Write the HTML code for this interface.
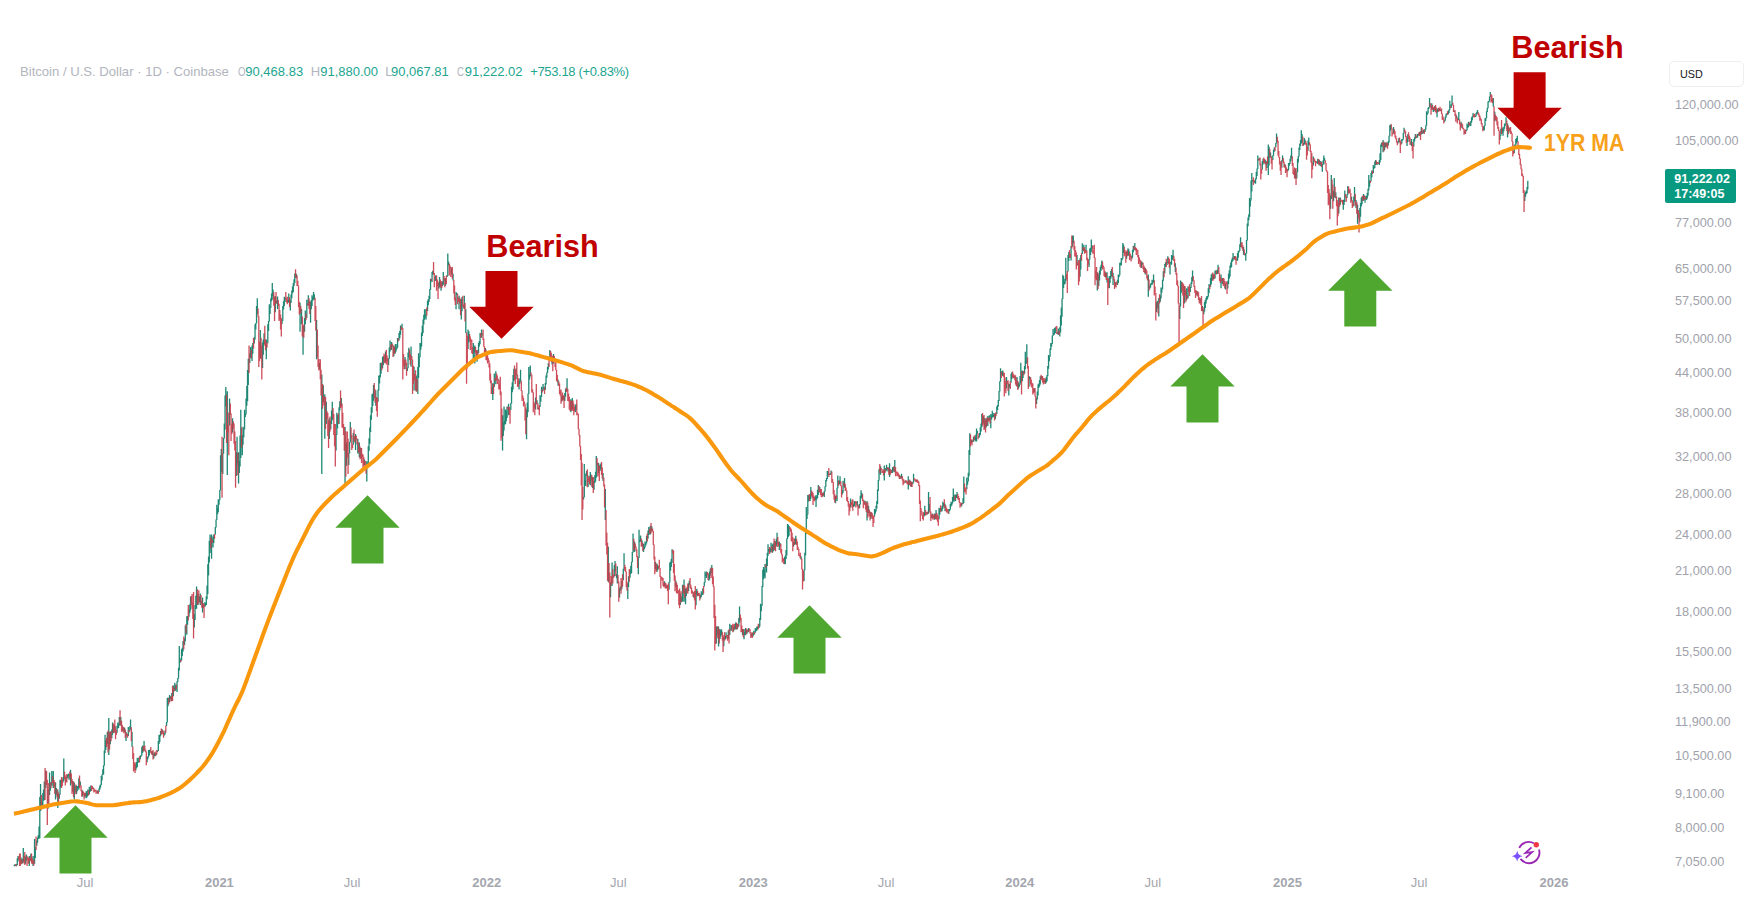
<!DOCTYPE html>
<html><head><meta charset="utf-8"><style>
*{margin:0;padding:0;box-sizing:border-box}
html,body{width:1753px;height:916px;background:#fff;overflow:hidden}
body{position:relative;font-family:"Liberation Sans",sans-serif}
.lg{position:absolute;top:64px;font-size:13px;line-height:15px;white-space:nowrap;color:#b2b5be}
.lg.v{color:#22a58f}
.lg.sq{transform:scaleX(.74);transform-origin:0 0}
.pl{position:absolute;left:1675px;font-size:12.7px;line-height:12.7px;color:#9fa2ab;white-space:nowrap}
.tl{position:absolute;top:874.6px;width:80px;text-align:center;font-size:13px;line-height:15px;color:#a3a6ae}
.tl.yr{font-weight:bold}
.bear{position:absolute;font-weight:bold;font-size:30.65px;line-height:30px;color:#c00000;white-space:nowrap}
.ma{position:absolute;left:1543.6px;top:130.9px;font-weight:bold;font-size:24px;transform:scaleX(.885);transform-origin:0 0;line-height:24px;color:#f7a11a;white-space:nowrap}
.usd{position:absolute;left:1668.5px;top:60.5px;width:75px;height:26.5px;border:1px solid #eceef2;border-radius:5px;font-size:10.8px;line-height:24.5px;padding-left:10.5px;color:#131722}
.cur{position:absolute;left:1665.3px;top:169px;width:71.2px;height:34.4px;background:#089981;border-radius:2px;color:#fff;font-weight:bold;font-size:12.5px;line-height:14.5px;padding:3px 0 0 9px}
</style></head><body>
<svg width="1753" height="916" viewBox="0 0 1753 916" style="position:absolute;left:0;top:0">
<path d="M14.30 864.8V866.2M15.05 864.3V865.8M16.55 864.2V866.3M17.30 858.2V864.9M18.05 856.1V861.3M21.05 857.6V864.2M22.55 858.8V863.2M23.30 848.0V862.0M25.55 856.4V863.7M26.30 854.4V860.8M29.30 856.0V866.0M30.80 853.7V860.8M33.05 856.0V866.0M34.55 839.0V863.8M35.30 847.0V857.9M36.80 840.5V845.8M37.55 837.5V842.8M38.30 835.0V839.0M39.05 826.5V838.8M39.80 797.0V838.3M40.55 784.0V811.0M42.05 801.2V808.3M42.80 793.1V807.0M43.55 789.4V801.0M44.30 781.5V799.9M45.80 770.6V787.9M48.05 789.6V808.8M49.55 772.6V795.1M50.30 782.3V790.8M51.80 771.0V785.7M53.30 771.0V788.0M55.55 782.6V799.6M56.30 788.1V794.7M57.80 789.7V808.0M59.30 794.3V798.7M60.05 779.7V794.8M60.80 779.7V787.4M63.05 777.2V782.5M63.80 758.5V780.7M66.05 777.6V782.1M67.55 774.8V778.3M68.30 773.7V776.2M69.05 773.4V779.7M70.55 769.8V785.4M72.80 781.1V791.8M74.30 782.6V799.6M75.05 786.6V792.1M76.55 785.4V794.0M77.30 785.9V791.2M78.05 785.9V787.4M78.80 778.2V789.8M80.30 781.4V785.8M82.55 790.6V796.5M84.80 793.3V797.4M86.30 791.0V798.2M87.05 792.9V797.2M87.80 789.5V795.9M89.30 786.8V794.4M90.05 789.0V792.1M90.80 785.6V791.1M93.05 787.6V789.1M97.55 790.4V793.5M99.05 788.3V792.1M99.80 785.4V789.7M100.55 784.5V787.7M101.30 776.0V785.0M102.05 774.5V780.6M102.80 769.2V775.0M103.55 765.3V774.5M104.30 750.5V765.8M105.05 734.8V753.1M105.80 740.3V750.0M107.30 731.9V744.1M108.80 718.0V754.9M110.30 731.7V744.3M111.80 729.4V738.3M112.55 722.5V734.8M114.05 724.7V732.9M117.05 725.8V732.9M117.80 722.5V728.6M118.55 723.6V727.9M119.30 717.0V725.5M120.80 717.0V725.5M123.05 726.7V730.8M124.55 727.8V731.9M126.05 731.7V740.9M128.30 727.0V735.9M129.80 726.3V731.2M130.55 719.5V729.2M132.05 731.7V747.0M135.80 764.3V770.4M136.55 761.9V768.2M137.30 757.7V766.9M138.05 760.7V762.8M138.80 757.7V762.6M140.30 755.6V759.3M141.05 755.0V756.7M141.80 747.0V755.5M142.55 745.4V753.0M144.05 740.9V751.3M147.05 756.5V762.2M147.80 756.7V759.3M148.55 750.0V757.2M149.30 750.2V755.4M150.05 749.5V751.8M152.30 751.3V755.1M153.80 753.5V758.6M154.55 752.4V756.0M156.05 753.0V755.6M157.55 750.6V752.1M158.30 740.9V751.1M159.05 734.8V744.0M159.80 734.9V741.9M160.55 730.9V736.2M162.05 729.1V733.4M164.30 733.2V735.4M165.05 730.5V734.4M166.55 722.0V726.1M167.30 698.0V722.5M168.05 697.4V706.3M169.55 695.0V702.3M170.30 696.3V699.4M171.80 692.9V701.1M173.30 685.6V696.3M174.80 682.8V690.9M175.55 684.8V690.5M177.05 681.3V692.0M177.80 678.0V682.1M178.55 667.8V678.5M179.30 646.1V670.6M180.05 658.3V662.7M181.55 649.2V660.4M182.30 647.7V656.0M183.05 641.0V651.4M184.55 638.2V645.1M185.30 625.6V641.3M186.80 616.2V634.8M187.55 616.0V624.8M189.05 609.5V616.8M189.80 604.3V613.0M190.55 596.6V610.6M194.30 614.0V627.6M195.05 605.1V619.9M195.80 595.8V609.0M196.55 586.5V608.8M198.05 593.7V604.9M199.55 596.3V601.9M200.30 593.4V605.1M202.55 597.6V612.5M204.80 602.3V607.1M205.55 602.9V605.7M206.30 596.3V605.1M207.05 585.6V599.2M207.80 564.2V593.9M208.55 556.5V575.5M209.30 540.8V562.5M210.05 534.5V553.1M211.55 534.5V558.7M213.05 536.4V547.5M213.80 534.4V542.9M215.30 526.9V534.4M216.05 519.5V527.4M216.80 504.8V520.0M217.55 508.1V514.2M218.30 499.3V512.3M219.05 499.8V504.7M219.80 490.0V500.3M220.55 455.2V490.5M221.30 449.1V472.3M222.80 453.3V473.9M223.55 438.1V453.8M224.30 423.5V438.6M225.05 395.5V429.6M225.80 387.0V406.4M227.30 391.3V475.0M229.55 398.4V425.6M232.55 418.3V432.4M236.30 452.2V476.0M237.05 436.7V464.7M238.55 452.3V483.5M239.30 460.8V472.9M240.05 435.4V466.5M240.80 409.7V458.0M242.30 435.3V455.2M243.05 426.8V444.8M243.80 428.4V437.2M244.55 409.7V429.6M245.30 413.7V417.0M246.05 398.4V414.4M246.80 385.9V405.8M247.55 370.0V401.2M248.30 358.8V385.1M249.80 353.3V362.9M250.55 347.1V357.8M252.05 345.6V360.9M252.80 342.9V353.7M254.30 337.2V343.4M255.05 324.2V339.5M255.80 323.1V329.4M256.55 305.9V323.6M257.30 298.2V313.9M260.30 330.0V358.1M262.55 342.4V368.1M263.30 339.5V354.8M264.05 333.2V344.0M266.30 339.5V359.3M267.80 324.2V343.2M268.55 321.1V331.1M269.30 304.3V321.6M270.05 307.6V313.9M270.80 298.2V308.1M271.55 293.6V301.3M272.30 282.9V295.9M273.05 289.4V299.7M275.30 295.9V312.3M276.80 300.6V303.6M277.55 296.6V308.9M282.05 320.5V323.9M282.80 305.9V321.0M283.55 301.3V309.5M284.30 296.7V305.9M285.05 297.4V301.9M288.05 299.7V302.7M288.80 293.6V302.8M290.30 299.7V310.4M291.05 294.4V302.7M291.80 290.6V298.2M292.55 286.6V293.5M293.30 282.9V292.1M294.05 279.2V286.1M294.80 273.6V282.9M296.30 273.7V278.3M300.05 302.8V331.8M301.55 308.9V324.2M303.05 325.7V354.8M304.55 318.0V331.7M305.30 310.4V324.2M306.80 299.7V318.1M308.30 295.2V305.7M310.55 302.0V322.7M311.30 300.0V309.3M312.05 295.2V305.9M312.80 296.7V300.7M313.55 292.1V299.8M314.30 294.2V299.7M316.55 320.0V359.3M319.55 363.1V369.2M321.80 374.6V474.0M323.30 385.3V402.0M324.80 394.2V438.8M326.30 401.7V423.9M329.30 418.3V439.1M330.80 420.6V429.2M331.55 410.4V424.1M332.30 401.7V420.2M336.05 434.5V450.6M336.80 412.8V435.0M337.55 414.8V428.5M339.05 407.2V423.9M339.80 401.3V410.6M341.30 398.1V406.7M345.05 426.9V485.2M346.55 442.5V465.7M348.80 452.9V465.0M349.55 441.9V453.4M350.30 422.1V442.4M353.30 433.1V444.7M355.55 434.1V449.9M357.80 438.8V453.6M359.30 442.5V457.3M360.80 448.0V458.6M364.55 459.4V464.9M366.80 461.2V481.5M367.55 462.6V467.5M368.30 446.2V463.1M369.05 438.3V451.1M369.80 427.6V443.8M370.55 415.2V432.1M371.30 407.3V419.7M372.05 394.2V412.8M372.80 393.4V406.0M373.55 385.0V400.7M375.80 390.5V405.7M378.05 389.6V401.8M378.80 375.7V390.5M379.55 375.0V383.4M380.30 362.7V377.6M381.05 363.0V373.7M382.55 357.1V368.3M383.30 356.0V365.3M385.55 351.4V362.3M388.55 358.3V364.9M389.30 347.4V358.8M390.05 340.4V351.6M391.55 341.9V350.1M393.80 346.2V356.3M395.30 344.1V353.5M396.05 348.0V351.5M396.80 344.2V349.3M397.55 338.0V347.8M399.05 333.0V340.6M399.80 330.7V338.3M400.55 325.6V334.8M402.05 323.7V328.6M405.05 357.1V369.2M407.30 367.7V371.1M408.05 352.6V368.2M408.80 347.8V357.5M411.05 346.5V366.8M414.05 366.8V390.5M416.30 375.4V391.6M417.80 366.8V393.9M418.55 353.3V378.1M419.30 356.8V367.3M420.05 343.1V357.3M420.80 342.9V349.8M421.55 332.4V346.5M422.30 325.5V335.9M423.05 319.5V333.0M423.80 314.7V324.6M424.55 309.3V319.8M425.30 314.8V317.1M426.05 309.0V319.5M427.55 300.8V311.1M428.30 298.9V305.3M429.05 295.7V302.1M429.80 289.0V299.1M430.55 278.8V289.8M432.05 272.1V282.0M432.80 270.8V274.8M435.05 277.3V281.1M435.80 275.2V280.7M438.80 282.7V288.8M439.55 277.1V287.3M441.05 282.2V290.7M442.55 281.6V286.0M443.30 272.1V284.8M445.55 278.3V285.8M447.05 275.5V277.1M447.80 253.5V276.0M448.55 261.4V265.5M451.55 268.5V274.3M453.05 273.8V280.5M456.05 292.1V309.3M456.80 292.9V295.1M459.05 295.8V309.3M461.30 299.1V319.5M462.05 297.0V311.2M464.30 295.8V309.3M465.80 309.3V333.0M468.05 329.6V349.1M468.80 331.2V342.5M473.30 343.1V360.1M474.05 346.6V352.4M474.80 345.6V363.4M477.05 349.9V361.8M478.55 343.1V353.3M479.30 341.0V346.6M480.05 333.0V344.3M481.55 329.6V337.7M482.30 333.4V335.3M485.30 348.0V353.2M492.05 387.2V394.1M492.80 383.2V400.0M494.30 373.6V386.9M495.80 371.2V384.2M498.05 378.8V380.3M502.55 415.2V450.6M503.30 422.4V436.0M504.05 406.6V430.4M504.80 420.7V424.4M505.55 409.5V424.2M506.30 410.7V421.3M507.05 406.4V418.0M508.55 403.7V415.2M510.80 402.9V410.0M511.55 386.8V403.4M512.30 382.2V392.2M513.05 375.0V389.6M513.80 368.8V381.3M516.05 368.6V379.2M519.05 381.0V389.6M519.80 378.5V383.9M520.55 369.7V381.7M526.55 409.5V439.3M527.30 402.4V417.2M528.05 393.5V412.3M528.80 366.9V394.0M529.55 374.4V379.6M530.30 365.5V376.5M535.55 397.6V409.4M537.05 400.3V403.5M538.55 407.5V409.6M540.05 395.3V407.0M540.80 396.5V401.7M541.55 386.8V397.1M543.05 383.9V390.9M543.80 387.2V388.9M545.30 383.1V389.9M546.05 375.4V384.6M546.80 372.5V377.7M547.55 366.9V373.0M548.30 363.2V369.6M549.80 349.9V359.6M552.05 357.6V364.5M553.55 354.1V363.6M558.05 379.5V385.4M561.80 395.7V401.6M563.30 395.7V399.8M564.80 393.0V401.1M565.55 388.7V396.7M567.05 378.3V391.3M570.80 399.3V412.3M572.30 398.1V409.5M575.30 405.2V412.3M576.05 404.1V410.1M583.55 496.7V499.4M584.30 464.0V497.2M585.05 479.9V485.6M585.80 473.5V486.1M586.55 471.1V475.9M588.05 475.4V486.9M590.30 472.0V485.3M591.05 474.4V480.7M592.55 477.3V487.9M594.05 481.3V489.8M594.80 475.2V483.1M595.55 471.8V481.8M596.30 456.0V477.8M598.55 463.1V473.3M600.05 464.7V471.1M600.80 463.6V468.9M603.05 473.0V481.0M605.30 489.0V520.0M608.30 546.7V582.0M610.55 582.2V597.3M612.05 562.4V586.0M614.30 565.3V576.6M615.05 561.0V571.6M616.55 574.0V578.2M617.30 566.3V583.4M619.55 588.3V597.5M620.30 586.5V590.8M621.80 581.0V589.3M623.30 568.7V580.2M624.05 553.2V569.2M627.80 583.6V599.1M628.55 576.3V587.0M630.05 569.9V577.8M630.80 565.8V573.9M631.55 561.7V572.9M632.30 551.9V562.2M633.05 533.6V552.4M634.55 541.4V551.9M638.30 557.6V574.2M639.05 529.7V558.1M639.80 540.0V542.0M640.55 535.6V541.6M642.05 540.6V546.2M643.55 544.1V551.9M644.30 546.7V549.3M645.05 541.4V547.4M645.80 542.9V545.4M646.55 535.8V543.4M648.05 530.6V538.7M648.80 527.0V534.9M650.30 525.8V534.4M651.80 526.3V531.2M655.55 561.9V569.2M657.05 563.7V571.8M657.80 565.6V570.3M664.55 581.2V586.3M666.80 585.5V588.1M669.05 581.9V589.7M669.80 562.4V582.4M670.55 561.7V570.8M671.30 558.8V566.9M672.05 549.3V563.0M675.80 580.4V586.9M680.30 593.8V605.1M681.80 596.6V602.0M682.55 584.8V601.4M684.05 579.4V601.7M685.55 588.6V604.3M686.30 588.3V596.1M688.55 583.2V591.0M689.30 580.8V584.9M693.80 592.5V597.8M696.05 591.1V605.2M696.80 588.8V595.0M698.30 592.9V595.5M700.55 594.9V598.5M701.30 591.2V596.9M702.05 593.4V594.9M702.80 588.4V594.9M704.30 581.9V586.5M705.05 571.6V582.4M705.80 573.4V576.0M706.55 571.6V578.1M708.80 574.2V580.8M709.55 571.6V579.8M710.30 568.6V575.8M711.80 565.0V572.9M716.30 626.5V643.5M717.05 626.2V634.9M718.55 626.5V646.4M720.05 629.3V639.1M720.80 630.2V636.5M721.55 629.3V635.0M723.80 636.9V646.3M725.30 635.7V639.4M726.05 632.2V638.5M728.30 630.6V638.7M729.80 623.7V634.9M731.30 625.1V630.8M733.55 626.4V631.4M735.05 624.1V629.6M735.80 622.2V629.3M737.30 623.7V629.3M738.80 618.0V626.5M739.55 606.6V622.4M742.55 629.3V635.0M744.05 629.3V639.3M744.80 632.2V634.9M745.55 627.9V635.2M747.05 629.3V633.8M748.55 627.9V632.2M751.55 633.8V636.6M753.05 632.9V636.6M753.80 630.8V635.0M755.30 627.9V632.8M756.05 629.0V631.3M756.80 626.5V630.8M757.55 626.6V629.4M759.05 624.3V627.9M759.80 618.0V626.5M760.55 603.8V620.1M761.30 605.5V611.2M762.05 585.9V606.0M762.80 569.7V587.1M763.55 566.9V579.3M764.30 569.5V576.3M765.05 564.0V578.3M766.55 558.4V572.6M767.30 552.7V566.1M768.05 544.2V555.8M768.80 549.1V551.7M770.30 548.2V552.4M771.05 542.8V551.3M772.55 544.2V552.7M773.30 543.2V551.2M774.80 541.1V550.2M776.30 538.7V546.4M777.05 532.8V544.2M779.30 541.4V549.9M780.05 543.1V546.6M784.55 557.0V564.3M785.30 555.5V564.0M786.05 550.1V559.1M786.80 538.5V555.5M787.55 524.0V539.0M788.30 524.8V537.1M789.05 526.0V535.7M793.55 541.9V546.4M795.05 538.5V544.5M795.80 535.7V544.2M801.05 556.3V559.6M804.05 569.7V581.1M804.80 552.7V570.2M805.55 530.0V555.4M806.30 507.0V534.0M807.05 513.9V519.1M807.80 495.0V514.4M808.55 495.3V501.6M810.05 494.2V501.1M810.80 487.0V499.0M815.30 496.3V500.1M816.05 495.0V507.0M816.80 496.6V499.5M817.55 489.7V498.0M818.30 485.0V495.0M819.80 487.1V492.5M822.80 492.6V496.3M824.30 491.0V497.0M825.05 486.2V491.5M825.80 480.0V486.7M826.55 478.1V481.3M827.30 471.0V479.0M828.05 471.4V474.9M830.30 473.4V475.0M831.05 470.6V474.4M835.55 496.0V503.3M837.05 487.8V500.9M837.80 475.5V488.3M839.30 480.4V484.6M840.05 476.3V483.7M842.30 490.3V494.6M843.05 480.8V492.7M844.55 477.9V487.8M850.55 498.4V507.6M853.55 503.7V506.9M854.30 500.9V506.2M855.05 501.8V503.4M857.30 500.9V506.6M859.55 504.1V508.2M860.30 495.7V504.6M861.05 490.2V498.2M861.80 492.7V498.4M864.80 500.6V504.4M867.05 500.9V520.5M868.55 505.8V512.9M870.80 512.0V519.0M874.55 509.0V516.4M875.30 509.7V513.7M876.05 505.8V511.5M876.80 500.9V508.4M877.55 489.4V504.0M878.30 480.1V491.0M879.05 469.1V480.6M880.55 466.3V474.7M884.30 465.6V480.4M885.80 468.1V471.4M886.55 464.8V470.5M888.05 467.3V471.4M889.55 463.2V477.1M891.80 469.7V473.0M892.55 467.3V473.0M893.30 467.0V471.4M894.80 459.9V472.3M900.05 475.5V479.1M901.55 473.8V478.3M905.30 480.4V482.8M908.30 476.3V489.4M909.80 479.8V485.3M911.30 481.7V487.0M912.80 481.9V484.2M913.55 473.8V482.4M916.55 479.8V481.3M924.05 512.3V516.5M924.80 505.8V515.6M927.05 512.1V514.7M928.55 492.1V513.7M929.30 503.9V511.5M932.30 513.5V518.5M934.55 513.6V519.7M936.05 510.1V519.0M939.05 507.7V519.2M939.80 508.4V514.8M941.30 507.9V511.6M942.05 506.0V511.3M942.80 501.7V508.9M943.55 503.0V506.4M945.05 503.7V511.3M948.80 508.9V513.7M949.55 509.2V511.2M950.30 504.1V509.7M951.05 501.7V506.6M951.80 502.5V505.6M952.55 496.9V503.4M953.30 488.5V501.3M954.05 494.5V501.7M955.55 494.5V500.9M956.30 495.1V497.8M957.05 492.1V498.1M961.55 502.7V506.5M963.05 498.0V504.1M963.80 476.4V502.9M966.80 477.6V489.3M967.55 481.0V484.8M968.30 472.8V481.5M969.05 450.0V476.3M969.80 433.2V454.9M971.30 439.9V443.1M972.80 440.6V442.1M973.55 436.8V441.7M975.05 436.8V439.9M975.80 434.4V441.6M976.55 428.4V441.6M977.30 431.1V433.7M978.80 436.3V438.1M979.55 433.1V436.8M980.30 427.2V434.9M981.05 423.6V431.4M981.80 414.0V427.2M983.30 416.3V423.4M984.80 418.1V428.8M986.30 418.4V427.2M987.80 416.0V426.0M989.30 415.2V420.2M990.80 414.1V428.3M991.55 415.2V419.5M992.30 410.8V417.4M993.05 414.9V416.4M993.80 413.0V417.3M995.30 413.3V418.9M996.80 406.4V413.9M997.55 404.9V410.0M998.30 399.9V406.4M999.05 391.1V401.1M999.80 381.3V391.6M1000.55 368.2V381.8M1002.05 371.0V375.3M1002.80 370.4V375.9M1006.55 376.9V388.6M1008.80 383.5V395.5M1009.55 384.0V387.4M1011.05 373.7V382.7M1011.80 372.3V379.2M1014.05 375.9V378.3M1017.05 376.9V386.8M1018.55 382.4V388.7M1019.30 384.2V386.7M1020.05 375.9V384.7M1020.80 362.8V382.9M1022.30 370.4V381.3M1023.05 371.1V378.0M1024.55 366.1V373.7M1025.30 351.8V369.2M1026.05 360.8V364.0M1026.80 344.2V362.8M1029.05 376.1V386.8M1029.80 377.1V379.4M1034.30 388.7V392.1M1036.55 397.7V404.0M1037.30 391.4V399.4M1038.05 384.6V395.5M1038.80 383.5V387.9M1039.55 380.0V386.6M1040.30 376.2V384.6M1041.80 376.3V379.2M1044.05 380.2V382.3M1045.55 379.1V383.8M1046.30 377.1V382.4M1047.05 375.0V381.3M1047.80 366.0V376.2M1048.55 355.1V368.8M1049.30 356.2V361.3M1050.05 348.5V356.7M1050.80 343.1V349.9M1051.55 343.6V346.7M1052.30 335.5V344.1M1053.05 329.0V336.0M1053.80 332.9V334.7M1054.55 328.0V334.6M1055.30 327.3V332.9M1057.55 331.9V333.9M1058.30 328.5V335.0M1059.80 327.3V336.4M1060.55 315.4V332.4M1061.30 307.5V325.6M1062.05 298.4V316.7M1062.80 274.8V298.9M1063.55 276.1V288.1M1064.30 281.3V284.6M1065.05 278.7V284.0M1065.80 257.8V281.2M1068.05 255.1V271.4M1068.80 252.0V261.1M1071.05 246.0V260.4M1072.55 235.8V246.7M1073.30 235.5V243.3M1077.05 255.1V265.6M1080.05 258.3V276.7M1080.80 255.1V269.5M1082.30 243.3V254.1M1083.80 244.7V251.2M1086.05 244.7V252.5M1089.05 259.1V266.9M1089.80 248.6V259.6M1090.55 247.8V254.9M1091.30 239.4V251.9M1092.05 245.4V248.4M1097.30 272.2V290.5M1098.80 274.8V286.0M1099.55 270.6V280.4M1100.30 266.9V274.8M1101.05 264.7V270.8M1101.80 260.4V268.2M1105.55 272.2V277.4M1107.05 272.2V282.6M1109.30 276.1V288.3M1110.05 276.1V283.0M1110.80 270.9V278.7M1111.55 268.9V276.5M1113.05 272.7V285.0M1115.30 282.2V286.6M1117.55 279.8V285.0M1118.30 274.5V283.1M1119.05 274.7V277.2M1119.80 262.8V275.2M1120.55 262.5V265.3M1121.30 258.1V265.4M1122.05 257.9V260.3M1122.80 243.1V258.5M1123.55 244.6V252.9M1126.55 251.6V258.8M1128.05 248.3V255.5M1128.80 249.6V255.7M1131.80 255.6V259.3M1132.55 249.7V257.5M1133.30 245.7V252.3M1134.80 243.1V250.2M1141.55 261.4V268.0M1142.30 262.3V264.8M1145.30 268.0V274.5M1148.30 274.5V296.8M1149.80 286.1V288.8M1150.55 283.7V287.6M1151.30 283.1V284.8M1152.05 279.8V285.0M1152.80 280.2V283.6M1153.55 274.5V282.4M1156.55 302.3V312.0M1157.30 300.7V308.6M1158.80 297.9V316.5M1160.30 295.2V301.7M1161.05 287.6V298.6M1161.80 288.8V292.7M1162.55 279.8V289.3M1163.30 271.3V280.7M1164.80 264.1V273.3M1165.55 262.3V266.8M1167.05 261.7V265.1M1167.80 256.2V262.8M1170.05 261.7V274.5M1170.80 261.8V263.3M1171.55 254.9V264.7M1172.30 255.7V260.0M1173.05 249.7V258.5M1175.30 263.3V271.9M1179.80 306.0V319.1M1180.55 280.4V306.5M1181.30 281.7V292.8M1184.30 286.0V303.5M1186.55 288.3V300.2M1188.05 286.5V298.2M1190.30 287.0V292.0M1191.05 282.4V288.0M1191.80 277.0V283.9M1192.55 270.6V281.6M1197.05 291.0V295.8M1200.05 297.7V302.9M1202.30 306.0V311.2M1203.80 309.4V314.3M1204.55 301.9V311.6M1205.30 300.0V308.0M1206.05 297.8V303.4M1206.80 295.9V300.3M1207.55 296.3V298.9M1208.30 288.3V296.8M1209.05 284.1V292.9M1210.55 278.1V286.8M1211.30 274.5V284.3M1212.05 273.6V280.1M1213.55 274.7V279.5M1215.05 270.6V278.4M1215.80 270.5V273.8M1217.30 269.8V273.9M1218.05 264.7V272.8M1221.05 274.5V288.3M1222.55 277.9V284.0M1225.55 283.6V289.4M1227.80 280.8V288.5M1228.55 273.7V284.1M1229.30 270.3V278.8M1230.05 265.4V276.5M1230.80 262.4V268.1M1231.55 259.8V267.1M1232.30 257.8V261.7M1233.05 252.9V260.7M1234.55 256.1V259.6M1236.80 258.8V260.7M1237.55 252.9V260.7M1238.30 250.7V257.8M1239.05 250.6V252.6M1239.80 244.2V251.1M1240.55 237.2V247.0M1243.55 247.0V254.8M1245.05 253.9V255.4M1245.80 252.9V260.7M1246.55 240.0V253.4M1247.30 223.4V240.5M1248.05 217.5V226.2M1248.80 214.3V220.3M1249.55 198.0V216.9M1250.30 200.0V206.6M1251.05 180.5V200.5M1251.80 172.9V191.4M1252.55 180.0V181.5M1254.80 180.8V183.3M1255.55 178.3V183.8M1256.30 171.9V179.3M1257.05 168.5V176.1M1257.80 155.4V169.0M1259.30 158.3V160.3M1262.30 160.9V169.4M1263.05 158.7V164.6M1265.30 159.8V164.4M1266.80 161.0V168.1M1268.30 144.5V175.0M1269.05 146.8V165.6M1270.55 152.4V157.7M1272.80 155.2V160.1M1273.55 149.7V155.7M1274.30 147.6V151.7M1275.80 143.0V147.2M1276.55 133.6V143.5M1281.80 160.2V167.8M1282.55 155.4V161.6M1284.80 164.1V167.6M1287.80 169.1V171.6M1288.55 163.0V170.1M1289.30 163.0V165.7M1290.05 158.7V163.9M1290.80 155.4V161.3M1291.55 147.8V158.7M1295.30 168.9V178.6M1296.80 171.8V178.6M1297.55 158.7V172.3M1298.30 155.9V162.5M1299.05 147.4V156.4M1299.80 143.4V149.9M1300.55 140.0V145.9M1301.30 130.3V143.4M1302.05 133.9V142.5M1303.55 142.9V145.4M1304.30 137.9V144.6M1305.05 139.8V143.7M1308.05 140.6V150.7M1308.80 137.6V145.6M1313.30 156.5V165.6M1317.05 161.1V162.8M1317.80 158.7V164.1M1319.30 159.8V165.6M1320.80 160.9V166.3M1322.30 164.1V171.8M1323.05 160.5V164.8M1323.80 155.4V164.4M1324.55 158.0V160.8M1330.55 195.4V208.7M1331.30 175.0V199.1M1333.55 190.7V201.3M1334.30 178.0V197.5M1335.80 192.2V198.3M1338.80 197.5V213.5M1340.30 197.5V204.7M1343.30 200.0V209.7M1344.05 199.6V205.0M1344.80 190.5V201.9M1347.05 194.3V198.0M1347.80 186.1V194.8M1349.30 190.2V192.8M1351.55 196.8V200.8M1353.80 196.6V206.2M1354.55 187.0V201.8M1356.05 200.0V208.0M1357.55 204.5V223.7M1359.80 208.0V221.8M1360.55 202.9V216.7M1361.30 197.5V206.4M1362.05 196.5V204.3M1363.55 194.0V200.7M1365.05 195.7V202.7M1366.55 195.7V200.1M1367.30 192.7V198.6M1368.05 188.7V195.7M1368.80 175.0V190.6M1369.55 180.5V186.8M1371.05 173.0V181.2M1371.80 170.6V177.5M1373.30 165.0V173.0M1374.05 166.9V168.7M1374.80 161.4V168.0M1375.55 160.1V165.0M1377.05 161.9V165.0M1379.30 160.1V165.0M1380.05 153.2V162.6M1380.80 144.4V160.1M1381.55 142.6V146.9M1383.05 140.0V152.2M1384.55 142.6V150.3M1385.30 142.7V147.3M1386.80 142.6V146.8M1388.30 140.9V145.5M1389.05 135.7V142.6M1389.80 125.2V136.2M1390.55 124.5V130.8M1393.55 126.9V133.2M1398.05 141.1V143.5M1398.80 138.3V142.0M1401.80 139.1V143.7M1402.55 139.0V140.8M1403.30 132.9V139.5M1404.05 127.8V133.4M1407.05 138.3V146.1M1407.80 134.3V141.9M1410.80 142.3V144.4M1411.55 139.1V146.1M1413.80 139.1V146.5M1414.55 137.2V141.4M1415.30 133.9V138.7M1416.80 136.3V137.9M1417.55 133.9V137.4M1418.30 133.5V135.3M1419.80 131.8V135.8M1421.30 126.9V134.5M1422.80 130.4V133.9M1423.55 129.7V132.9M1425.05 129.3V131.9M1425.80 125.2V129.8M1426.55 111.2V125.7M1427.30 113.0V114.7M1428.05 107.7V113.5M1428.80 106.9V109.1M1429.55 98.1V107.4M1431.80 103.3V109.5M1433.30 107.7V112.1M1434.80 106.0V111.2M1437.05 109.5V117.3M1437.80 108.4V112.0M1439.30 108.8V110.9M1440.80 109.2V110.9M1444.55 120.3V121.8M1445.30 116.4V120.8M1446.05 113.8V117.8M1446.80 113.3V115.3M1448.30 110.6V114.2M1449.05 109.5V113.0M1449.80 100.7V110.2M1451.30 104.2V107.7M1452.05 95.5V104.7M1454.30 110.6V112.1M1456.55 115.4V117.9M1458.05 118.4V120.3M1458.80 112.1V120.2M1461.05 121.7V127.9M1464.80 131.1V133.5M1466.30 129.8V131.3M1467.05 123.4V130.3M1467.80 125.2V128.1M1468.55 121.7V126.9M1470.05 123.3V125.8M1470.80 121.1V126.0M1471.55 117.3V122.8M1472.30 116.2V120.3M1473.05 113.0V117.3M1475.30 115.6V117.1M1476.05 113.0V116.4M1476.80 111.7V114.6M1477.55 110.1V113.8M1483.55 126.6V130.3M1484.30 125.4V130.4M1485.05 118.2V125.9M1485.80 117.7V121.0M1486.55 111.2V118.2M1487.30 107.7V112.0M1488.05 101.6V108.2M1488.80 100.7V102.6M1489.55 96.4V101.6M1490.30 92.0V96.9M1493.30 98.1V106.8M1494.80 111.7V121.2M1500.05 135.0V139.7M1500.80 128.7V135.7M1502.30 127.6V133.2M1503.05 128.7V135.7M1503.80 126.7V131.2M1504.55 123.4V128.7M1505.30 123.7V125.7M1506.05 117.3V124.3M1507.55 123.4V137.4M1509.05 127.5V132.6M1514.30 144.4V153.1M1515.05 145.1V146.6M1515.80 139.1V145.6M1516.55 138.0V143.4M1517.30 135.7V141.8M1524.80 193.3V200.9M1525.55 191.8V196.7M1526.30 190.5V193.9M1527.05 186.9V193.3M1527.80 180.8V189.5" stroke="#13826e" stroke-width="1.3" fill="none" stroke-opacity="0.95"/>
<path d="M15.80 864.0V866.2M18.80 856.2V859.5M19.55 853.5V866.0M20.30 853.5V866.0M21.80 859.5V864.0M24.05 855.7V863.5M24.80 852.0V865.1M27.05 855.7V866.0M27.80 857.2V859.8M28.55 857.8V863.7M30.05 857.3V861.2M31.55 853.5V863.5M32.30 858.2V864.0M33.80 859.9V865.4M36.05 836.5V849.9M41.30 795.0V809.8M45.05 768.0V800.0M46.55 771.0V784.9M47.30 779.8V825.0M48.80 782.9V806.7M51.05 782.3V788.2M52.55 776.3V783.0M54.05 780.1V786.9M54.80 782.0V794.1M57.05 788.9V797.2M58.55 792.6V804.0M61.55 777.0V788.0M62.30 779.2V786.0M64.55 771.4V778.9M65.30 775.2V785.4M66.80 774.0V782.6M69.80 771.6V778.2M71.30 773.5V783.4M72.05 779.1V794.0M73.55 781.6V797.3M75.80 784.6V794.3M79.55 775.5V788.0M81.05 785.3V791.2M81.80 789.7V796.8M83.30 791.6V794.7M84.05 792.5V799.6M85.55 792.8V796.2M88.55 790.5V795.2M91.55 785.4V791.0M92.30 786.0V789.3M93.80 787.8V792.5M94.55 789.3V791.7M95.30 790.1V791.6M96.05 789.7V794.0M96.80 791.3V792.8M98.30 790.5V794.0M106.55 737.8V747.0M108.05 730.4V752.4M109.55 732.2V749.6M111.05 731.0V741.3M113.30 723.4V733.1M114.80 719.5V731.7M115.55 726.3V739.3M116.30 730.1V735.0M120.05 710.3V725.6M121.55 720.7V731.7M122.30 725.1V731.7M123.80 727.0V733.2M125.30 729.4V737.9M126.80 733.2V735.8M127.55 734.0V737.7M129.05 730.1V732.2M131.30 727.3V741.2M132.80 746.5V759.0M133.55 753.0V771.4M134.30 762.5V769.9M135.05 762.3V773.0M139.55 756.2V762.3M143.30 746.2V751.5M144.80 745.4V750.0M145.55 749.4V752.0M146.30 751.5V765.3M150.80 747.0V753.1M151.55 751.2V754.4M153.05 750.0V759.4M155.30 751.6V756.2M156.80 750.0V754.6M161.30 728.6V734.8M162.80 730.1V734.3M163.55 731.3V737.8M165.80 725.6V732.8M168.80 697.9V704.3M171.05 695.9V701.4M172.55 685.8V701.1M174.05 687.7V691.5M176.30 684.7V689.2M180.80 659.9V661.9M183.80 636.6V649.2M186.05 624.1V633.3M188.30 605.1V620.5M191.30 596.0V605.1M192.05 593.9V608.8M192.80 602.6V619.1M193.55 592.1V638.5M197.30 589.3V604.9M198.80 590.2V603.4M201.05 594.9V603.4M201.80 600.4V607.7M203.30 603.2V608.1M204.05 604.2V618.1M210.80 537.3V548.5M212.30 539.8V542.8M214.55 533.9V538.8M222.05 436.7V497.7M226.55 394.7V442.9M228.05 425.1V432.4M228.80 412.6V455.2M230.30 403.4V414.7M231.05 413.2V441.0M231.80 423.8V434.0M233.30 421.3V428.7M234.05 423.4V443.8M234.80 431.6V450.5M235.55 441.0V487.8M237.80 453.1V475.3M241.55 427.3V447.4M249.05 345.6V373.1M251.30 349.8V358.5M253.55 338.0V348.6M258.05 308.5V316.8M258.80 316.3V367.0M259.55 341.7V361.3M261.05 337.7V359.1M261.80 345.6V379.5M264.80 325.7V345.7M265.55 339.5V350.3M267.05 342.7V347.5M273.80 292.3V305.7M274.55 296.7V321.1M276.05 292.1V303.8M278.30 300.0V305.9M279.05 303.8V321.1M279.80 309.9V319.5M280.55 314.4V329.5M281.30 318.1V336.4M285.80 292.1V299.7M286.55 298.8V302.5M287.30 296.7V304.3M289.55 297.2V306.9M295.55 269.2V277.6M297.05 275.3V286.0M297.80 280.7V286.1M298.55 285.6V307.2M299.30 301.8V314.5M300.80 305.9V313.2M302.30 316.4V336.5M303.80 324.5V337.8M306.05 313.6V320.2M307.55 303.6V305.2M309.05 298.2V308.9M309.80 301.1V314.1M315.05 297.7V321.1M315.80 305.9V330.4M317.30 329.6V357.6M318.05 345.6V367.0M318.80 359.0V370.4M320.30 359.3V379.2M321.05 369.7V395.6M322.55 383.9V408.8M324.05 396.1V405.5M325.55 397.0V429.0M327.05 411.3V419.1M327.80 413.1V436.1M328.55 420.2V448.1M330.05 416.5V431.4M333.05 408.0V418.5M333.80 413.9V435.1M334.55 423.9V446.3M335.30 423.9V466.6M338.30 413.6V423.6M340.55 390.5V407.9M342.05 403.5V427.6M342.80 412.7V427.9M343.55 423.9V435.1M344.30 426.9V450.8M345.80 431.3V476.7M347.30 431.4V457.6M348.05 438.8V474.0M351.05 427.6V438.6M351.80 435.1V449.9M352.55 444.2V447.9M354.05 429.5V440.9M354.80 435.9V442.4M356.30 435.8V439.6M357.05 438.8V444.6M358.55 442.6V452.6M360.05 446.5V459.3M361.55 448.1V462.9M362.30 453.8V457.2M363.05 454.6V468.5M363.80 457.1V466.0M365.30 461.1V470.3M366.05 465.5V473.7M374.30 383.1V397.9M375.05 389.2V402.6M376.55 397.1V411.0M377.30 398.0V416.8M381.80 362.6V370.2M384.05 353.4V362.7M384.80 355.1V363.2M386.30 349.7V364.5M387.05 355.6V361.2M387.80 358.3V372.0M390.80 344.6V349.5M392.30 343.4V346.8M393.05 345.0V357.1M394.55 346.8V353.7M398.30 338.2V341.2M401.30 326.4V330.0M402.80 328.1V379.4M403.55 354.0V366.0M404.30 359.4V369.2M405.80 359.5V365.4M406.55 362.7V375.7M409.55 349.6V360.0M410.30 354.1V364.8M411.80 356.1V360.1M412.55 359.6V393.9M413.30 365.8V383.9M414.80 374.1V380.5M415.55 370.2V390.5M417.05 378.9V391.8M426.80 307.5V315.6M431.30 278.9V281.0M433.55 261.9V274.6M434.30 272.9V287.3M436.55 275.5V290.7M437.30 279.5V286.2M438.05 281.4V299.1M440.30 279.5V287.4M441.80 281.0V288.3M444.05 275.9V280.6M444.80 278.3V287.3M446.30 275.5V283.9M449.30 263.5V275.5M450.05 265.6V269.3M450.80 266.9V277.1M452.30 267.0V278.8M453.80 279.8V293.4M454.55 285.6V300.4M455.30 297.2V305.0M457.55 293.7V304.2M458.30 297.4V301.8M459.80 297.7V303.4M460.55 299.1V315.3M462.80 295.8V306.2M463.55 304.5V308.2M465.05 303.0V321.6M466.55 332.5V383.7M467.30 335.9V368.5M469.55 333.9V340.8M470.30 336.4V349.9M471.05 339.2V342.1M471.80 339.7V353.3M472.55 347.1V353.9M475.55 347.1V353.3M476.30 350.1V357.2M477.80 350.5V357.1M480.80 333.0V337.5M483.05 329.6V340.0M483.80 338.4V346.8M484.55 346.3V353.3M486.05 349.5V360.1M486.80 355.5V360.6M487.55 353.3V363.4M488.30 358.1V362.0M489.05 360.5V367.5M489.80 363.4V380.4M490.55 373.6V383.3M491.30 380.4V393.9M493.55 383.7V394.1M495.05 377.7V381.2M496.55 373.4V380.2M497.30 375.4V383.9M498.80 379.8V389.6M499.55 383.7V389.4M500.30 376.8V395.3M501.05 391.4V440.7M501.80 408.4V437.8M507.80 407.1V409.7M509.30 406.8V414.8M510.05 409.5V423.7M514.55 365.5V380.0M515.30 369.7V383.9M516.80 362.6V375.4M517.55 374.6V386.8M518.30 378.3V386.9M521.30 380.7V390.9M522.05 390.4V401.0M522.80 395.4V398.5M523.55 398.0V406.6M524.30 401.5V404.4M525.05 403.8V420.8M525.80 407.6V434.3M531.05 372.5V375.3M531.80 374.8V392.4M532.55 389.3V392.8M533.30 392.3V412.3M534.05 402.1V408.3M534.80 403.8V415.2M536.30 383.9V404.5M537.80 403.0V409.5M539.30 405.3V415.2M542.30 389.2V392.6M544.55 386.8V393.9M549.05 358.4V366.9M550.55 351.1V357.4M551.30 352.7V362.1M552.80 355.5V371.2M554.30 356.0V360.6M555.05 358.4V366.9M555.80 362.8V370.2M556.55 369.7V381.1M557.30 374.8V382.2M558.80 381.2V386.1M559.55 383.4V393.9M560.30 390.5V395.8M561.05 389.6V403.8M562.55 392.4V400.7M564.05 395.3V408.1M566.30 387.6V391.9M567.80 389.1V401.0M568.55 393.5V401.3M569.30 396.7V409.5M570.05 400.3V410.8M571.55 400.7V411.1M573.05 400.4V410.9M573.80 403.8V415.2M574.55 406.7V411.6M576.80 399.5V415.2M577.55 412.7V414.2M578.30 413.7V429.3M579.05 428.8V435.6M579.80 435.0V446.5M580.55 446.0V460.0M581.30 454.0V485.4M582.05 462.7V520.0M582.80 486.8V509.5M587.30 469.3V487.2M588.80 477.7V482.0M589.55 476.0V484.2M591.80 475.1V486.8M593.30 477.0V493.0M597.05 457.9V465.2M597.80 462.6V476.6M599.30 466.0V481.0M601.55 462.0V475.0M602.30 467.5V478.5M603.80 477.5V486.4M604.55 484.6V507.6M606.05 510.0V545.4M606.80 532.4V554.4M607.55 542.8V580.7M609.05 563.0V582.8M609.80 572.6V617.4M611.30 575.9V585.2M612.80 569.0V583.4M613.55 574.4V577.9M615.80 563.4V576.1M618.05 575.0V583.1M618.80 581.4V601.7M621.05 578.1V593.8M622.55 574.2V586.7M624.80 564.7V570.9M625.55 566.9V572.0M626.30 571.5V587.3M627.05 581.7V590.8M629.30 569.0V581.7M633.80 538.8V550.4M635.30 543.5V547.8M636.05 546.4V550.8M636.80 549.3V557.2M637.55 555.9V568.1M641.30 538.5V546.7M642.80 542.7V550.9M647.30 533.6V541.4M649.55 528.7V533.6M651.05 523.1V533.6M652.55 528.5V531.4M653.30 530.9V544.9M654.05 544.4V559.4M654.80 556.5V574.2M656.30 563.7V571.8M658.55 565.9V568.8M659.30 559.8V568.4M660.05 567.9V577.0M660.80 575.9V588.6M661.55 576.9V578.7M662.30 577.4V580.8M663.05 578.1V586.0M663.80 582.3V587.2M665.30 582.7V588.6M666.05 583.5V588.7M667.55 585.1V591.1M668.30 583.4V604.3M672.80 549.7V553.6M673.55 550.6V572.9M674.30 563.9V580.7M675.05 575.4V591.2M676.55 582.4V593.0M677.30 584.7V593.8M678.05 591.1V592.7M678.80 590.1V605.0M679.55 588.6V608.3M681.05 591.2V602.5M683.30 585.1V593.5M684.80 585.4V598.0M687.05 586.8V593.1M687.80 583.4V593.8M690.05 578.1V587.7M690.80 584.7V588.9M691.55 587.5V593.8M692.30 590.5V593.0M693.05 591.7V596.8M694.55 591.0V600.5M695.30 586.0V609.6M697.55 590.8V596.5M699.05 592.8V596.0M699.80 593.8V600.4M703.55 586.0V593.8M707.30 572.0V575.2M708.05 573.0V580.1M711.05 567.6V578.1M712.55 567.9V583.9M713.30 576.5V586.8M714.05 586.3V618.0M714.80 604.7V650.6M715.55 615.9V644.1M717.80 626.5V638.2M719.30 629.2V643.6M722.30 631.8V640.5M723.05 635.0V652.0M724.55 632.2V640.8M726.80 635.2V637.6M727.55 635.0V640.7M729.05 629.3V643.5M730.55 628.7V630.5M732.05 625.4V628.2M732.80 623.7V632.2M734.30 623.7V629.8M736.55 622.7V629.5M738.05 624.1V627.4M740.30 614.6V620.8M741.05 617.8V632.2M741.80 625.6V632.3M743.30 629.0V637.3M746.30 628.4V634.2M747.80 630.1V632.1M749.30 628.6V630.7M750.05 629.3V633.6M750.80 632.2V637.9M752.30 632.2V637.9M754.55 632.3V634.2M758.30 623.7V629.3M765.80 564.5V567.4M769.55 547.0V554.1M771.80 546.3V552.4M774.05 538.5V549.9M775.55 541.4V551.3M777.80 537.0V547.0M778.55 542.1V546.3M780.80 543.7V552.7M781.55 549.1V554.8M782.30 554.3V562.6M783.05 558.5V560.7M783.80 558.3V564.0M789.80 526.9V529.3M790.55 527.8V531.8M791.30 529.2V541.4M792.05 532.4V541.5M792.80 537.0V551.3M794.30 538.5V544.9M796.55 538.7V544.9M797.30 541.4V549.9M798.05 546.7V549.5M798.80 549.0V556.0M799.55 554.9V556.4M800.30 552.7V558.4M801.80 558.4V569.5M802.55 568.7V589.6M803.30 571.1V581.4M809.30 494.0V501.0M811.55 490.6V496.3M812.30 491.8V497.7M813.05 492.7V505.0M813.80 495.5V500.2M814.55 497.1V501.3M819.05 486.1V492.2M820.55 488.9V494.9M821.30 489.0V497.0M822.05 492.9V497.3M823.55 492.8V495.6M828.80 468.0V477.0M829.55 473.6V475.1M831.80 471.6V482.8M832.55 479.0V482.4M833.30 481.9V494.3M834.05 490.0V499.7M834.80 494.3V502.5M836.30 495.4V498.8M838.55 480.4V485.7M840.80 481.2V486.2M841.55 485.6V497.6M843.80 482.4V486.3M845.30 483.9V491.0M846.05 487.6V491.1M846.80 490.6V500.9M847.55 496.9V501.9M848.30 500.9V506.6M849.05 504.9V515.6M849.80 503.6V511.3M851.30 502.3V505.1M852.05 500.0V507.4M852.80 499.2V510.7M855.80 500.9V507.4M856.55 501.9V504.8M858.05 504.6V515.6M858.80 505.6V508.4M862.55 494.3V500.9M863.30 499.4V508.2M864.05 501.6V505.1M865.55 501.6V509.5M866.30 502.5V512.3M867.80 502.6V517.4M869.30 509.4V516.2M870.05 511.5V520.5M871.55 512.3V517.2M872.30 513.3V518.9M873.05 515.5V527.1M873.80 515.8V523.0M879.80 464.0V473.0M881.30 468.0V469.7M882.05 469.2V473.0M882.80 471.0V472.8M883.55 469.6V475.5M885.05 469.2V473.0M887.30 467.2V469.2M888.80 467.8V474.8M890.30 469.0V474.7M891.05 469.9V473.2M894.05 465.9V471.4M895.55 467.3V476.3M896.30 471.5V473.2M897.05 471.4V476.3M897.80 472.2V475.5M898.55 473.5V476.7M899.30 474.7V479.1M900.80 476.5V478.5M902.30 476.0V480.6M903.05 478.8V485.3M903.80 479.6V483.7M904.55 481.3V482.8M906.05 480.3V481.8M906.80 480.4V483.7M907.55 481.2V484.5M909.05 479.7V485.0M910.55 481.0V486.5M912.05 481.7V487.0M914.30 478.3V479.8M915.05 478.7V481.2M915.80 479.6V482.0M917.30 479.6V482.8M918.05 480.6V483.0M918.80 481.5V486.1M919.55 485.0V504.1M920.30 500.6V521.3M921.05 508.1V511.6M921.80 511.1V515.6M922.55 515.0V519.1M923.30 512.3V520.5M925.55 509.9V515.5M926.30 512.3V514.8M927.80 511.5V514.0M930.05 496.9V512.8M930.80 511.6V520.9M931.55 514.2V518.3M933.05 514.2V519.7M933.80 514.7V518.2M935.30 513.7V519.3M936.80 512.8V519.7M937.55 514.6V521.8M938.30 516.1V525.7M940.55 505.3V511.8M944.30 499.3V507.7M945.80 505.6V510.9M946.55 507.7V512.5M947.30 508.9V511.6M948.05 510.1V513.7M954.80 495.8V499.9M957.80 494.1V499.3M958.55 496.0V500.1M959.30 498.1V502.9M960.05 502.0V507.7M960.80 503.4V506.0M962.30 503.0V504.5M964.55 483.6V492.2M965.30 488.4V491.5M966.05 487.2V494.5M970.55 434.4V446.4M972.05 439.2V445.2M974.30 435.6V440.4M978.05 433.2V439.2M982.55 413.0V425.8M984.05 415.0V430.0M985.55 419.4V432.4M987.05 417.2V425.4M988.55 418.0V421.4M990.05 417.1V423.6M994.55 414.1V420.6M996.05 411.9V416.2M1001.30 371.8V378.0M1003.55 372.2V376.9M1004.30 373.1V396.6M1005.05 377.4V390.4M1005.80 381.3V393.3M1007.30 381.0V383.7M1008.05 380.2V391.1M1010.30 381.3V389.0M1012.55 371.5V377.4M1013.30 373.7V378.0M1014.80 374.8V380.2M1015.55 375.5V384.6M1016.30 378.2V386.1M1017.80 381.1V390.0M1021.55 371.4V394.4M1023.80 371.1V375.3M1027.55 357.3V368.6M1028.30 366.0V389.0M1030.55 376.9V384.6M1031.30 379.6V386.8M1032.05 382.8V387.7M1032.80 383.5V394.4M1033.55 387.9V393.3M1035.05 387.9V396.6M1035.80 396.1V408.6M1041.05 374.8V380.3M1042.55 375.9V382.4M1043.30 378.0V384.6M1044.80 378.0V383.8M1056.05 326.6V328.7M1056.80 325.9V334.1M1059.05 330.7V335.1M1066.55 274.3V279.4M1067.30 270.9V293.1M1069.55 249.9V257.8M1070.30 253.8V257.9M1071.80 235.5V248.6M1074.05 240.8V250.2M1074.80 246.0V256.4M1075.55 249.9V256.7M1076.30 252.5V269.5M1077.80 262.4V265.5M1078.55 260.1V285.3M1079.30 260.4V281.5M1081.55 253.1V260.7M1083.05 247.3V250.7M1084.55 247.3V253.8M1085.30 249.7V253.0M1086.80 250.4V260.3M1087.55 257.8V270.9M1088.30 259.5V264.7M1092.80 245.6V253.8M1093.55 250.8V253.3M1094.30 244.7V257.9M1095.05 257.4V285.3M1095.80 270.6V278.7M1096.55 266.9V280.2M1098.05 272.8V289.0M1102.55 261.7V269.5M1103.30 265.5V267.7M1104.05 267.2V276.1M1104.80 270.7V277.1M1106.30 273.1V280.0M1107.80 278.0V304.9M1108.55 278.6V288.1M1112.30 266.9V276.9M1113.80 276.2V280.3M1114.55 279.3V289.0M1116.05 282.4V287.6M1116.80 281.6V284.6M1124.30 246.8V256.2M1125.05 250.0V253.8M1125.80 251.8V262.8M1127.30 249.7V256.2M1129.55 251.5V260.1M1130.30 253.8V257.1M1131.05 256.0V261.4M1134.05 246.2V249.4M1135.55 247.3V250.4M1136.30 248.1V254.9M1137.05 249.4V251.1M1137.80 249.7V257.2M1138.55 255.0V264.1M1139.30 257.4V261.8M1140.05 259.7V266.7M1140.80 260.5V267.7M1143.05 262.8V269.3M1143.80 265.4V271.9M1144.55 266.8V273.1M1146.05 269.0V273.8M1146.80 270.6V278.5M1147.55 275.5V280.5M1149.05 279.5V290.8M1154.30 280.3V295.5M1155.05 286.6V293.6M1155.80 293.1V320.4M1158.05 302.4V313.4M1159.55 294.2V303.4M1164.05 268.0V277.2M1166.30 258.8V266.9M1168.55 257.6V263.9M1169.30 258.8V267.8M1173.80 255.7V261.0M1174.55 258.8V266.8M1176.05 267.6V274.7M1176.80 272.9V285.0M1177.55 280.6V286.3M1178.30 285.8V303.4M1179.05 302.9V343.0M1182.05 282.0V290.8M1182.80 283.0V295.5M1183.55 284.3V308.0M1185.05 286.0V295.4M1185.80 290.1V302.2M1187.30 294.9V298.7M1188.80 286.4V292.3M1189.55 284.3V296.0M1193.30 276.2V280.7M1194.05 280.2V287.0M1194.80 286.0V292.8M1195.55 290.0V298.0M1196.30 290.6V294.8M1197.80 291.6V296.5M1198.55 292.2V300.0M1199.30 297.4V303.6M1200.80 298.8V304.9M1201.55 296.0V311.1M1203.05 306.9V325.6M1209.80 285.1V289.1M1212.80 272.5V281.0M1214.30 273.8V278.7M1216.55 270.6V274.4M1218.80 267.0V274.0M1219.55 273.3V281.0M1220.30 276.6V283.1M1221.80 278.7V281.3M1223.30 278.1V285.7M1224.05 278.4V286.3M1224.80 281.1V288.6M1226.30 281.4V284.4M1227.05 282.4V294.1M1233.80 257.3V258.9M1235.30 256.0V260.1M1236.05 256.8V264.7M1241.30 242.3V247.3M1242.05 242.2V248.6M1242.80 245.2V250.8M1244.30 249.4V255.0M1253.30 177.2V184.9M1254.05 180.0V182.0M1258.55 158.9V160.5M1260.05 157.6V165.4M1260.80 163.6V179.4M1261.55 168.9V173.7M1263.80 157.6V163.0M1264.55 159.1V163.5M1266.05 162.0V170.7M1267.55 156.5V163.7M1269.80 148.8V157.2M1271.30 156.3V163.7M1272.05 158.7V169.6M1275.05 146.7V151.0M1277.30 136.8V142.5M1278.05 140.7V155.4M1278.80 150.9V157.4M1279.55 156.9V164.5M1280.30 162.2V170.8M1281.05 160.9V175.0M1283.30 158.0V163.2M1284.05 161.8V167.4M1285.55 165.1V172.9M1286.30 167.3V171.5M1287.05 168.7V177.2M1292.30 156.2V165.7M1293.05 163.0V174.0M1293.80 170.3V175.0M1294.55 167.4V178.5M1296.05 168.1V184.9M1302.80 136.5V145.9M1305.80 141.1V144.9M1306.55 143.0V159.8M1307.30 146.8V155.6M1309.55 142.2V144.9M1310.30 144.4V152.1M1311.05 150.7V162.7M1311.80 153.2V178.3M1312.55 162.4V169.4M1314.05 158.1V161.1M1314.80 159.6V162.6M1315.55 160.9V166.3M1316.30 161.6V163.2M1318.55 159.1V164.5M1320.05 161.6V164.4M1321.55 162.1V167.0M1325.30 160.3V163.6M1326.05 163.0V170.4M1326.80 169.9V172.3M1327.55 171.8V193.0M1328.30 184.9V205.3M1329.05 189.1V204.3M1329.80 193.1V219.3M1332.05 179.4V197.3M1332.80 184.4V208.8M1335.05 186.8V197.4M1336.55 196.4V206.2M1337.30 200.0V225.4M1338.05 202.2V216.2M1339.55 198.1V206.8M1341.05 199.4V201.5M1341.80 200.5V202.1M1342.55 200.0V204.5M1345.55 194.1V197.7M1346.30 196.6V201.8M1348.55 186.6V193.4M1350.05 188.7V193.4M1350.80 192.9V202.7M1352.30 200.3V208.0M1353.05 203.1V206.6M1355.30 194.1V205.6M1356.80 202.1V213.8M1358.30 209.9V218.5M1359.05 213.6V232.4M1362.80 195.5V200.9M1364.30 195.6V199.5M1365.80 197.2V199.2M1370.30 180.7V182.9M1372.55 170.7V174.1M1376.30 160.4V164.4M1377.80 162.0V163.7M1378.55 162.4V164.0M1382.30 142.4V145.6M1383.80 141.5V151.4M1386.05 142.3V147.5M1387.55 143.0V148.8M1391.30 124.3V128.7M1392.05 128.2V136.5M1392.80 132.7V134.3M1394.30 129.2V134.2M1395.05 131.3V137.4M1395.80 135.8V139.3M1396.55 138.3V142.6M1397.30 141.8V145.3M1399.55 137.4V142.6M1400.30 140.5V153.1M1401.05 142.2V144.7M1404.80 129.4V132.8M1405.55 131.3V137.0M1406.30 135.9V142.9M1408.55 132.2V139.1M1409.30 135.5V141.8M1410.05 137.4V145.0M1412.30 142.1V151.0M1413.05 144.4V158.4M1416.05 134.4V138.2M1419.05 132.2V136.0M1420.55 131.3V140.0M1422.05 128.1V133.2M1424.30 129.3V133.9M1430.30 103.3V107.2M1431.05 106.2V114.7M1432.55 104.9V109.7M1434.05 106.9V110.3M1435.55 105.1V112.1M1436.30 107.5V113.3M1438.55 107.7V111.7M1440.05 106.8V111.2M1441.55 108.6V114.0M1442.30 113.5V119.9M1443.05 116.2V118.8M1443.80 118.3V123.4M1447.55 111.2V114.7M1450.55 106.2V107.9M1452.80 102.7V105.6M1453.55 105.1V112.1M1455.05 110.3V116.1M1455.80 113.8V121.7M1457.30 117.4V123.4M1459.55 119.5V124.6M1460.30 122.8V130.4M1461.80 123.3V126.4M1462.55 124.3V128.7M1463.30 127.8V129.3M1464.05 128.8V134.8M1465.55 129.5V133.9M1469.30 122.3V125.6M1473.80 114.5V117.3M1474.55 113.8V117.4M1478.30 112.2V114.9M1479.05 113.8V117.0M1479.80 115.6V120.8M1480.55 117.5V120.3M1481.30 119.3V124.3M1482.05 123.1V126.4M1482.80 125.9V131.3M1491.05 93.9V102.5M1491.80 95.2V101.7M1492.55 98.3V103.2M1494.05 106.3V135.7M1495.55 114.7V119.9M1496.30 116.3V121.6M1497.05 117.3V125.2M1497.80 121.5V128.7M1498.55 127.1V130.9M1499.30 130.4V144.4M1501.55 119.9V133.9M1506.80 120.4V131.1M1508.30 125.5V134.2M1509.80 128.2V130.7M1510.55 126.9V133.9M1511.30 131.3V133.8M1512.05 133.3V141.8M1512.80 141.3V156.6M1513.55 150.8V154.0M1518.05 141.3V147.9M1518.80 147.4V154.9M1519.55 153.7V159.1M1520.30 158.4V165.0M1521.05 164.3V169.3M1521.80 168.8V176.0M1522.55 173.7V176.5M1523.30 176.0V193.1M1524.05 189.9V212.0" stroke="#c83a48" stroke-width="1.3" fill="none" stroke-opacity="0.9"/>
<path d="M14.0 813.8C14.5 813.7 16.0 813.3 17.0 813.1C18.0 812.8 19.0 812.6 20.0 812.4C21.0 812.1 22.0 811.9 23.0 811.7C24.0 811.4 25.0 811.2 26.0 810.9C27.0 810.7 28.0 810.5 29.0 810.2C30.0 810.0 31.0 809.8 32.0 809.5C33.0 809.3 34.0 809.0 35.0 808.8C36.0 808.6 37.0 808.3 38.0 808.1C39.0 807.9 40.0 807.6 41.0 807.4C42.0 807.1 43.0 806.9 44.0 806.7C45.0 806.4 46.0 806.2 47.0 805.9C48.0 805.7 49.0 805.5 50.0 805.2C51.0 805.0 52.0 804.8 53.0 804.6C54.0 804.4 55.0 804.2 56.0 804.0C57.0 803.8 58.0 803.7 59.0 803.5C60.0 803.3 61.0 803.2 62.0 803.0C63.0 802.8 64.0 802.7 65.0 802.5C66.0 802.3 67.0 802.2 68.0 802.0C69.0 801.8 70.0 801.6 71.0 801.5C72.0 801.4 73.0 801.3 74.0 801.3C75.0 801.2 76.0 801.3 77.0 801.4C78.0 801.5 79.0 801.6 80.0 801.8C81.0 801.9 82.0 802.0 83.0 802.2C84.0 802.3 85.0 802.5 86.0 802.7C87.0 803.0 88.0 803.2 89.0 803.5C90.0 803.8 91.0 804.1 92.0 804.4C93.0 804.6 94.0 804.9 95.0 805.0C96.0 805.2 97.0 805.2 98.0 805.3C99.0 805.3 100.0 805.3 101.0 805.3C102.0 805.3 103.0 805.3 104.0 805.3C105.0 805.3 106.0 805.3 107.0 805.3C108.0 805.3 109.0 805.3 110.0 805.3C111.0 805.3 112.0 805.3 113.0 805.2C114.0 805.1 115.0 805.0 116.0 804.9C117.0 804.7 118.0 804.6 119.0 804.4C120.0 804.2 121.0 804.1 122.0 803.9C123.0 803.8 124.0 803.6 125.0 803.4C126.0 803.3 127.0 803.1 128.0 803.0C129.0 802.8 130.0 802.7 131.0 802.6C132.0 802.5 133.0 802.5 134.0 802.4C135.0 802.3 136.0 802.3 137.0 802.2C138.0 802.2 139.0 802.2 140.0 802.1C141.0 802.0 142.0 802.0 143.0 801.8C144.0 801.7 145.0 801.5 146.0 801.3C147.0 801.1 148.0 800.8 149.0 800.6C150.0 800.3 151.0 800.1 152.0 799.8C153.0 799.6 154.0 799.3 155.0 799.0C156.0 798.8 157.0 798.5 158.0 798.1C159.0 797.8 160.0 797.4 161.0 797.0C162.0 796.6 163.0 796.2 164.0 795.8C165.0 795.4 166.0 795.0 167.0 794.6C168.0 794.2 169.0 793.8 170.0 793.3C171.0 792.9 172.0 792.4 173.0 791.8C174.0 791.3 175.0 790.8 176.0 790.2C177.0 789.6 178.0 789.1 179.0 788.5C180.0 787.9 181.0 787.3 182.0 786.5C183.0 785.8 184.0 785.0 185.0 784.1C186.0 783.3 187.0 782.4 188.0 781.5C189.0 780.6 190.0 779.8 191.0 778.8C192.0 777.9 193.0 777.0 194.0 775.9C195.0 774.9 196.0 773.9 197.0 772.8C198.0 771.8 199.0 770.7 200.0 769.6C201.0 768.5 202.0 767.4 203.0 766.2C204.0 765.0 205.0 763.7 206.0 762.4C207.0 761.0 208.0 759.6 209.0 758.2C210.0 756.7 211.0 755.2 212.0 753.6C213.0 752.0 214.0 750.3 215.0 748.5C216.0 746.7 217.0 744.9 218.0 743.0C219.0 741.2 220.0 739.2 221.0 737.2C222.0 735.2 223.0 733.2 224.0 731.1C225.0 728.9 226.0 726.6 227.0 724.4C228.0 722.1 229.0 719.8 230.0 717.6C231.0 715.3 232.0 713.0 233.0 710.9C234.0 708.7 235.0 706.7 236.0 704.7C237.0 702.7 238.0 700.8 239.0 698.8C240.0 696.7 241.0 694.6 242.0 692.3C243.0 689.9 244.0 687.3 245.0 684.6C246.0 682.0 247.0 679.1 248.0 676.4C249.0 673.6 250.0 670.8 251.0 668.1C252.0 665.3 253.0 662.5 254.0 659.8C255.0 657.0 256.0 654.2 257.0 651.5C258.0 648.7 259.0 645.9 260.0 643.2C261.0 640.4 262.0 637.6 263.0 634.8C264.0 632.1 265.0 629.3 266.0 626.6C267.0 623.9 268.0 621.2 269.0 618.6C270.0 615.9 271.0 613.4 272.0 610.9C273.0 608.3 274.0 605.8 275.0 603.2C276.0 600.7 277.0 598.2 278.0 595.6C279.0 593.1 280.0 590.6 281.0 588.0C282.0 585.5 283.0 583.0 284.0 580.5C285.0 578.0 286.0 575.6 287.0 573.1C288.0 570.6 289.0 568.1 290.0 565.6C291.0 563.2 292.0 560.8 293.0 558.6C294.0 556.3 295.0 554.2 296.0 552.2C297.0 550.1 298.0 548.2 299.0 546.2C300.0 544.2 301.0 542.2 302.0 540.2C303.0 538.2 304.0 536.1 305.0 534.2C306.0 532.2 307.0 530.2 308.0 528.2C309.0 526.3 310.0 524.4 311.0 522.6C312.0 520.8 313.0 519.0 314.0 517.4C315.0 515.8 316.0 514.4 317.0 513.0C318.0 511.6 319.0 510.5 320.0 509.3C321.0 508.1 322.0 507.0 323.0 505.9C324.0 504.8 325.0 503.7 326.0 502.7C327.0 501.7 328.0 500.7 329.0 499.7C330.0 498.7 331.0 497.7 332.0 496.8C333.0 495.9 334.0 495.0 335.0 494.1C336.0 493.2 337.0 492.3 338.0 491.4C339.0 490.6 340.0 489.7 341.0 488.8C342.0 488.0 343.0 487.1 344.0 486.2C345.0 485.4 346.0 484.5 347.0 483.6C348.0 482.7 349.0 481.9 350.0 481.0C351.0 480.1 352.0 479.2 353.0 478.3C354.0 477.5 355.0 476.6 356.0 475.7C357.0 474.8 358.0 473.9 359.0 473.0C360.0 472.2 361.0 471.3 362.0 470.4C363.0 469.6 364.0 468.8 365.0 468.0C366.0 467.2 367.0 466.4 368.0 465.7C369.0 464.9 370.0 464.2 371.0 463.4C372.0 462.7 373.0 461.9 374.0 461.0C375.0 460.2 376.0 459.2 377.0 458.3C378.0 457.3 379.0 456.3 380.0 455.3C381.0 454.3 382.0 453.3 383.0 452.3C384.0 451.3 385.0 450.3 386.0 449.3C387.0 448.3 388.0 447.3 389.0 446.3C390.0 445.3 391.0 444.3 392.0 443.3C393.0 442.3 394.0 441.3 395.0 440.3C396.0 439.3 397.0 438.2 398.0 437.2C399.0 436.2 400.0 435.2 401.0 434.1C402.0 433.1 403.0 432.1 404.0 431.0C405.0 430.0 406.0 429.0 407.0 427.9C408.0 426.9 409.0 425.8 410.0 424.7C411.0 423.7 412.0 422.6 413.0 421.5C414.0 420.5 415.0 419.4 416.0 418.3C417.0 417.3 418.0 416.2 419.0 415.1C420.0 414.0 421.0 413.0 422.0 411.8C423.0 410.7 424.0 409.6 425.0 408.5C426.0 407.4 427.0 406.2 428.0 405.1C429.0 404.0 430.0 402.9 431.0 401.8C432.0 400.6 433.0 399.5 434.0 398.4C435.0 397.3 436.0 396.2 437.0 395.1C438.0 394.0 439.0 393.0 440.0 392.0C441.0 391.0 442.0 390.0 443.0 389.0C444.0 388.0 445.0 387.0 446.0 386.0C447.0 385.0 448.0 384.0 449.0 383.0C450.0 382.0 451.0 381.0 452.0 380.0C453.0 379.0 454.0 378.0 455.0 377.0C456.0 376.0 457.0 375.0 458.0 374.0C459.0 373.0 460.0 372.0 461.0 371.0C462.0 370.1 463.0 369.1 464.0 368.2C465.0 367.3 466.0 366.5 467.0 365.6C468.0 364.8 469.0 363.9 470.0 363.1C471.0 362.2 472.0 361.4 473.0 360.6C474.0 359.8 475.0 359.0 476.0 358.4C477.0 357.7 478.0 357.2 479.0 356.7C480.0 356.3 481.0 355.9 482.0 355.4C483.0 355.0 484.0 354.6 485.0 354.1C486.0 353.7 487.0 353.3 488.0 352.9C489.0 352.6 490.0 352.3 491.0 352.1C492.0 351.8 493.0 351.7 494.0 351.6C495.0 351.5 496.0 351.4 497.0 351.3C498.0 351.2 499.0 351.1 500.0 351.0C501.0 351.0 502.0 350.9 503.0 350.8C504.0 350.7 505.0 350.6 506.0 350.5C507.0 350.4 508.0 350.3 509.0 350.2C510.0 350.2 511.0 350.2 512.0 350.3C513.0 350.4 514.0 350.5 515.0 350.7C516.0 350.8 517.0 351.0 518.0 351.2C519.0 351.3 520.0 351.5 521.0 351.7C522.0 351.8 523.0 352.0 524.0 352.2C525.0 352.3 526.0 352.5 527.0 352.7C528.0 352.9 529.0 353.1 530.0 353.3C531.0 353.6 532.0 353.8 533.0 354.1C534.0 354.4 535.0 354.7 536.0 354.9C537.0 355.2 538.0 355.5 539.0 355.8C540.0 356.1 541.0 356.3 542.0 356.6C543.0 356.9 544.0 357.2 545.0 357.4C546.0 357.7 547.0 358.0 548.0 358.3C549.0 358.6 550.0 358.8 551.0 359.1C552.0 359.4 553.0 359.7 554.0 359.9C555.0 360.2 556.0 360.5 557.0 360.8C558.0 361.1 559.0 361.3 560.0 361.6C561.0 361.9 562.0 362.3 563.0 362.6C564.0 362.9 565.0 363.3 566.0 363.6C567.0 363.9 568.0 364.2 569.0 364.6C570.0 365.0 571.0 365.3 572.0 365.7C573.0 366.2 574.0 366.6 575.0 367.1C576.0 367.6 577.0 368.1 578.0 368.6C579.0 369.1 580.0 369.6 581.0 370.1C582.0 370.5 583.0 370.9 584.0 371.3C585.0 371.6 586.0 371.8 587.0 372.0C588.0 372.3 589.0 372.4 590.0 372.6C591.0 372.8 592.0 373.0 593.0 373.2C594.0 373.4 595.0 373.6 596.0 373.8C597.0 374.0 598.0 374.2 599.0 374.4C600.0 374.7 601.0 375.0 602.0 375.3C603.0 375.5 604.0 375.9 605.0 376.2C606.0 376.5 607.0 376.8 608.0 377.1C609.0 377.4 610.0 377.7 611.0 378.1C612.0 378.4 613.0 378.7 614.0 379.0C615.0 379.3 616.0 379.6 617.0 379.8C618.0 380.1 619.0 380.4 620.0 380.7C621.0 381.0 622.0 381.2 623.0 381.5C624.0 381.8 625.0 382.1 626.0 382.3C627.0 382.6 628.0 382.9 629.0 383.2C630.0 383.5 631.0 383.8 632.0 384.1C633.0 384.4 634.0 384.8 635.0 385.2C636.0 385.6 637.0 386.0 638.0 386.5C639.0 386.9 640.0 387.3 641.0 387.7C642.0 388.2 643.0 388.6 644.0 389.1C645.0 389.5 646.0 390.0 647.0 390.5C648.0 391.0 649.0 391.6 650.0 392.2C651.0 392.7 652.0 393.3 653.0 393.9C654.0 394.5 655.0 395.1 656.0 395.7C657.0 396.3 658.0 396.9 659.0 397.5C660.0 398.1 661.0 398.8 662.0 399.4C663.0 400.1 664.0 400.8 665.0 401.4C666.0 402.1 667.0 402.8 668.0 403.4C669.0 404.1 670.0 404.7 671.0 405.4C672.0 406.0 673.0 406.7 674.0 407.3C675.0 408.0 676.0 408.6 677.0 409.3C678.0 409.9 679.0 410.6 680.0 411.2C681.0 411.9 682.0 412.5 683.0 413.2C684.0 413.8 685.0 414.4 686.0 415.1C687.0 415.8 688.0 416.4 689.0 417.3C690.0 418.1 691.0 419.0 692.0 420.0C693.0 421.0 694.0 422.1 695.0 423.2C696.0 424.3 697.0 425.4 698.0 426.5C699.0 427.6 700.0 428.8 701.0 429.9C702.0 431.1 703.0 432.2 704.0 433.4C705.0 434.6 706.0 435.8 707.0 437.1C708.0 438.3 709.0 439.6 710.0 440.9C711.0 442.3 712.0 443.6 713.0 445.0C714.0 446.3 715.0 447.7 716.0 449.1C717.0 450.6 718.0 452.1 719.0 453.5C720.0 455.0 721.0 456.5 722.0 458.0C723.0 459.4 724.0 460.9 725.0 462.2C726.0 463.6 727.0 465.0 728.0 466.3C729.0 467.6 730.0 468.9 731.0 470.2C732.0 471.4 733.0 472.6 734.0 473.7C735.0 474.8 736.0 475.8 737.0 476.8C738.0 477.8 739.0 478.8 740.0 479.9C741.0 480.9 742.0 482.0 743.0 483.2C744.0 484.3 745.0 485.5 746.0 486.6C747.0 487.7 748.0 488.9 749.0 490.0C750.0 491.1 751.0 492.1 752.0 493.2C753.0 494.2 754.0 495.2 755.0 496.2C756.0 497.2 757.0 498.1 758.0 499.0C759.0 499.9 760.0 500.7 761.0 501.5C762.0 502.2 763.0 503.0 764.0 503.7C765.0 504.4 766.0 505.1 767.0 505.7C768.0 506.3 769.0 506.9 770.0 507.4C771.0 507.9 772.0 508.4 773.0 508.9C774.0 509.5 775.0 510.0 776.0 510.6C777.0 511.2 778.0 511.8 779.0 512.5C780.0 513.2 781.0 513.9 782.0 514.6C783.0 515.3 784.0 516.0 785.0 516.7C786.0 517.4 787.0 518.1 788.0 518.8C789.0 519.5 790.0 520.2 791.0 520.9C792.0 521.6 793.0 522.3 794.0 523.0C795.0 523.7 796.0 524.3 797.0 525.0C798.0 525.7 799.0 526.3 800.0 527.0C801.0 527.6 802.0 528.3 803.0 528.9C804.0 529.5 805.0 530.2 806.0 530.8C807.0 531.4 808.0 532.1 809.0 532.7C810.0 533.4 811.0 534.0 812.0 534.6C813.0 535.3 814.0 535.9 815.0 536.6C816.0 537.2 817.0 537.9 818.0 538.5C819.0 539.2 820.0 539.8 821.0 540.5C822.0 541.1 823.0 541.8 824.0 542.4C825.0 543.0 826.0 543.6 827.0 544.2C828.0 544.7 829.0 545.2 830.0 545.7C831.0 546.3 832.0 546.8 833.0 547.2C834.0 547.7 835.0 548.3 836.0 548.7C837.0 549.2 838.0 549.6 839.0 550.1C840.0 550.5 841.0 550.9 842.0 551.2C843.0 551.6 844.0 552.0 845.0 552.3C846.0 552.6 847.0 553.0 848.0 553.2C849.0 553.4 850.0 553.5 851.0 553.6C852.0 553.8 853.0 553.8 854.0 554.0C855.0 554.1 856.0 554.1 857.0 554.3C858.0 554.4 859.0 554.5 860.0 554.7C861.0 554.8 862.0 555.0 863.0 555.2C864.0 555.4 865.0 555.6 866.0 555.8C867.0 556.0 868.0 556.2 869.0 556.3C870.0 556.4 871.0 556.5 872.0 556.4C873.0 556.3 874.0 556.0 875.0 555.8C876.0 555.5 877.0 555.2 878.0 554.8C879.0 554.5 880.0 554.1 881.0 553.7C882.0 553.3 883.0 552.9 884.0 552.4C885.0 551.9 886.0 551.4 887.0 550.9C888.0 550.4 889.0 549.9 890.0 549.4C891.0 549.0 892.0 548.5 893.0 548.1C894.0 547.7 895.0 547.4 896.0 547.0C897.0 546.7 898.0 546.3 899.0 546.0C900.0 545.6 901.0 545.3 902.0 545.0C903.0 544.6 904.0 544.3 905.0 544.0C906.0 543.8 907.0 543.5 908.0 543.3C909.0 543.0 910.0 542.8 911.0 542.5C912.0 542.2 913.0 542.0 914.0 541.8C915.0 541.5 916.0 541.3 917.0 541.0C918.0 540.7 919.0 540.5 920.0 540.2C921.0 540.0 922.0 539.8 923.0 539.5C924.0 539.2 925.0 539.0 926.0 538.7C927.0 538.5 928.0 538.2 929.0 538.0C930.0 537.7 931.0 537.5 932.0 537.2C933.0 537.0 934.0 536.7 935.0 536.5C936.0 536.2 937.0 536.0 938.0 535.7C939.0 535.4 940.0 535.2 941.0 534.9C942.0 534.6 943.0 534.3 944.0 534.0C945.0 533.7 946.0 533.4 947.0 533.1C948.0 532.8 949.0 532.5 950.0 532.2C951.0 531.9 952.0 531.5 953.0 531.2C954.0 530.8 955.0 530.5 956.0 530.1C957.0 529.7 958.0 529.3 959.0 529.0C960.0 528.6 961.0 528.2 962.0 527.8C963.0 527.4 964.0 527.0 965.0 526.6C966.0 526.2 967.0 525.8 968.0 525.4C969.0 524.9 970.0 524.4 971.0 523.9C972.0 523.4 973.0 522.8 974.0 522.2C975.0 521.6 976.0 521.0 977.0 520.3C978.0 519.7 979.0 519.1 980.0 518.4C981.0 517.7 982.0 517.0 983.0 516.2C984.0 515.5 985.0 514.8 986.0 514.0C987.0 513.3 988.0 512.5 989.0 511.8C990.0 511.0 991.0 510.3 992.0 509.5C993.0 508.8 994.0 508.0 995.0 507.2C996.0 506.5 997.0 505.7 998.0 504.9C999.0 504.1 1000.0 503.2 1001.0 502.2C1002.0 501.3 1003.0 500.3 1004.0 499.3C1005.0 498.3 1006.0 497.3 1007.0 496.3C1008.0 495.3 1009.0 494.4 1010.0 493.4C1011.0 492.5 1012.0 491.6 1013.0 490.7C1014.0 489.8 1015.0 488.9 1016.0 488.0C1017.0 487.1 1018.0 486.2 1019.0 485.3C1020.0 484.4 1021.0 483.5 1022.0 482.6C1023.0 481.7 1024.0 480.8 1025.0 479.9C1026.0 479.1 1027.0 478.2 1028.0 477.4C1029.0 476.6 1030.0 475.9 1031.0 475.2C1032.0 474.6 1033.0 474.0 1034.0 473.4C1035.0 472.8 1036.0 472.2 1037.0 471.6C1038.0 471.0 1039.0 470.4 1040.0 469.8C1041.0 469.2 1042.0 468.6 1043.0 468.0C1044.0 467.4 1045.0 466.8 1046.0 466.1C1047.0 465.4 1048.0 464.6 1049.0 463.8C1050.0 463.0 1051.0 462.1 1052.0 461.3C1053.0 460.4 1054.0 459.5 1055.0 458.7C1056.0 457.8 1057.0 456.9 1058.0 456.0C1059.0 455.1 1060.0 454.3 1061.0 453.2C1062.0 452.2 1063.0 451.0 1064.0 449.8C1065.0 448.5 1066.0 447.1 1067.0 445.8C1068.0 444.4 1069.0 443.1 1070.0 441.7C1071.0 440.4 1072.0 439.1 1073.0 437.8C1074.0 436.5 1075.0 435.3 1076.0 434.1C1077.0 433.0 1078.0 431.9 1079.0 430.7C1080.0 429.6 1081.0 428.4 1082.0 427.3C1083.0 426.1 1084.0 424.8 1085.0 423.6C1086.0 422.4 1087.0 421.0 1088.0 419.8C1089.0 418.7 1090.0 417.5 1091.0 416.5C1092.0 415.4 1093.0 414.5 1094.0 413.6C1095.0 412.6 1096.0 411.7 1097.0 410.8C1098.0 409.9 1099.0 409.0 1100.0 408.2C1101.0 407.3 1102.0 406.5 1103.0 405.6C1104.0 404.8 1105.0 404.0 1106.0 403.2C1107.0 402.4 1108.0 401.6 1109.0 400.8C1110.0 400.0 1111.0 399.2 1112.0 398.3C1113.0 397.4 1114.0 396.5 1115.0 395.6C1116.0 394.6 1117.0 393.7 1118.0 392.7C1119.0 391.8 1120.0 390.8 1121.0 389.9C1122.0 388.9 1123.0 387.9 1124.0 386.9C1125.0 385.9 1126.0 384.8 1127.0 383.8C1128.0 382.8 1129.0 381.7 1130.0 380.7C1131.0 379.6 1132.0 378.6 1133.0 377.6C1134.0 376.6 1135.0 375.7 1136.0 374.7C1137.0 373.8 1138.0 372.9 1139.0 372.0C1140.0 371.1 1141.0 370.2 1142.0 369.3C1143.0 368.4 1144.0 367.6 1145.0 366.8C1146.0 366.0 1147.0 365.3 1148.0 364.5C1149.0 363.8 1150.0 363.1 1151.0 362.4C1152.0 361.7 1153.0 361.0 1154.0 360.4C1155.0 359.7 1156.0 359.1 1157.0 358.4C1158.0 357.8 1159.0 357.2 1160.0 356.6C1161.0 356.0 1162.0 355.4 1163.0 354.8C1164.0 354.2 1165.0 353.6 1166.0 353.0C1167.0 352.3 1168.0 351.6 1169.0 351.0C1170.0 350.3 1171.0 349.6 1172.0 348.9C1173.0 348.2 1174.0 347.5 1175.0 346.8C1176.0 346.1 1177.0 345.4 1178.0 344.7C1179.0 344.0 1180.0 343.3 1181.0 342.6C1182.0 341.9 1183.0 341.2 1184.0 340.5C1185.0 339.8 1186.0 339.1 1187.0 338.4C1188.0 337.7 1189.0 337.0 1190.0 336.3C1191.0 335.6 1192.0 334.9 1193.0 334.2C1194.0 333.5 1195.0 332.8 1196.0 332.1C1197.0 331.4 1198.0 330.6 1199.0 329.9C1200.0 329.2 1201.0 328.5 1202.0 327.8C1203.0 327.1 1204.0 326.4 1205.0 325.7C1206.0 325.0 1207.0 324.3 1208.0 323.6C1209.0 322.9 1210.0 322.2 1211.0 321.5C1212.0 320.8 1213.0 320.2 1214.0 319.5C1215.0 318.9 1216.0 318.3 1217.0 317.7C1218.0 317.1 1219.0 316.5 1220.0 315.9C1221.0 315.3 1222.0 314.7 1223.0 314.1C1224.0 313.5 1225.0 312.9 1226.0 312.3C1227.0 311.7 1228.0 311.1 1229.0 310.5C1230.0 309.9 1231.0 309.3 1232.0 308.7C1233.0 308.1 1234.0 307.5 1235.0 306.9C1236.0 306.3 1237.0 305.7 1238.0 305.1C1239.0 304.5 1240.0 303.9 1241.0 303.2C1242.0 302.6 1243.0 302.0 1244.0 301.4C1245.0 300.8 1246.0 300.2 1247.0 299.5C1248.0 298.8 1249.0 298.1 1250.0 297.3C1251.0 296.5 1252.0 295.5 1253.0 294.6C1254.0 293.6 1255.0 292.6 1256.0 291.6C1257.0 290.6 1258.0 289.6 1259.0 288.6C1260.0 287.6 1261.0 286.6 1262.0 285.6C1263.0 284.6 1264.0 283.5 1265.0 282.5C1266.0 281.6 1267.0 280.6 1268.0 279.6C1269.0 278.7 1270.0 277.8 1271.0 276.9C1272.0 276.0 1273.0 275.2 1274.0 274.3C1275.0 273.4 1276.0 272.6 1277.0 271.7C1278.0 270.9 1279.0 270.1 1280.0 269.4C1281.0 268.6 1282.0 267.9 1283.0 267.2C1284.0 266.5 1285.0 265.8 1286.0 265.1C1287.0 264.4 1288.0 263.7 1289.0 263.0C1290.0 262.3 1291.0 261.5 1292.0 260.8C1293.0 260.0 1294.0 259.2 1295.0 258.4C1296.0 257.7 1297.0 256.9 1298.0 256.1C1299.0 255.2 1300.0 254.5 1301.0 253.6C1302.0 252.8 1303.0 252.0 1304.0 251.1C1305.0 250.3 1306.0 249.3 1307.0 248.4C1308.0 247.4 1309.0 246.4 1310.0 245.4C1311.0 244.4 1312.0 243.4 1313.0 242.6C1314.0 241.7 1315.0 240.9 1316.0 240.2C1317.0 239.4 1318.0 238.8 1319.0 238.2C1320.0 237.6 1321.0 237.0 1322.0 236.4C1323.0 235.8 1324.0 235.2 1325.0 234.7C1326.0 234.2 1327.0 233.8 1328.0 233.4C1329.0 233.0 1330.0 232.7 1331.0 232.4C1332.0 232.1 1333.0 231.9 1334.0 231.7C1335.0 231.4 1336.0 231.2 1337.0 230.9C1338.0 230.6 1339.0 230.4 1340.0 230.1C1341.0 229.9 1342.0 229.6 1343.0 229.4C1344.0 229.2 1345.0 229.0 1346.0 228.8C1347.0 228.6 1348.0 228.5 1349.0 228.3C1350.0 228.1 1351.0 228.0 1352.0 227.9C1353.0 227.7 1354.0 227.6 1355.0 227.4C1356.0 227.3 1357.0 227.1 1358.0 227.0C1359.0 226.8 1360.0 226.7 1361.0 226.5C1362.0 226.3 1363.0 226.0 1364.0 225.8C1365.0 225.5 1366.0 225.2 1367.0 224.9C1368.0 224.6 1369.0 224.3 1370.0 223.9C1371.0 223.6 1372.0 223.1 1373.0 222.6C1374.0 222.2 1375.0 221.6 1376.0 221.1C1377.0 220.6 1378.0 220.1 1379.0 219.6C1380.0 219.1 1381.0 218.6 1382.0 218.1C1383.0 217.6 1384.0 217.2 1385.0 216.8C1386.0 216.3 1387.0 215.9 1388.0 215.4C1389.0 214.9 1390.0 214.5 1391.0 214.0C1392.0 213.5 1393.0 213.0 1394.0 212.5C1395.0 212.0 1396.0 211.5 1397.0 211.0C1398.0 210.5 1399.0 210.0 1400.0 209.5C1401.0 209.0 1402.0 208.5 1403.0 208.0C1404.0 207.5 1405.0 207.0 1406.0 206.5C1407.0 206.0 1408.0 205.5 1409.0 205.0C1410.0 204.5 1411.0 203.9 1412.0 203.4C1413.0 202.9 1414.0 202.3 1415.0 201.7C1416.0 201.2 1417.0 200.6 1418.0 200.0C1419.0 199.4 1420.0 198.8 1421.0 198.2C1422.0 197.6 1423.0 197.0 1424.0 196.4C1425.0 195.8 1426.0 195.2 1427.0 194.6C1428.0 194.0 1429.0 193.4 1430.0 192.8C1431.0 192.2 1432.0 191.6 1433.0 191.0C1434.0 190.4 1435.0 189.8 1436.0 189.2C1437.0 188.6 1438.0 188.0 1439.0 187.4C1440.0 186.8 1441.0 186.2 1442.0 185.6C1443.0 185.0 1444.0 184.4 1445.0 183.8C1446.0 183.1 1447.0 182.5 1448.0 181.9C1449.0 181.2 1450.0 180.6 1451.0 179.9C1452.0 179.3 1453.0 178.6 1454.0 178.0C1455.0 177.3 1456.0 176.7 1457.0 176.1C1458.0 175.4 1459.0 174.8 1460.0 174.2C1461.0 173.6 1462.0 173.0 1463.0 172.4C1464.0 171.8 1465.0 171.2 1466.0 170.6C1467.0 170.0 1468.0 169.4 1469.0 168.9C1470.0 168.3 1471.0 167.8 1472.0 167.2C1473.0 166.7 1474.0 166.1 1475.0 165.6C1476.0 165.0 1477.0 164.5 1478.0 164.0C1479.0 163.4 1480.0 162.9 1481.0 162.4C1482.0 161.9 1483.0 161.4 1484.0 160.9C1485.0 160.4 1486.0 159.9 1487.0 159.4C1488.0 158.9 1489.0 158.4 1490.0 157.9C1491.0 157.4 1492.0 156.9 1493.0 156.4C1494.0 155.9 1495.0 155.4 1496.0 154.9C1497.0 154.4 1498.0 153.9 1499.0 153.5C1500.0 153.0 1501.0 152.6 1502.0 152.1C1503.0 151.7 1504.0 151.3 1505.0 150.9C1506.0 150.6 1507.0 150.2 1508.0 149.8C1509.0 149.4 1510.0 149.0 1511.0 148.7C1512.0 148.4 1513.0 148.1 1514.0 147.8C1515.0 147.6 1516.0 147.4 1517.0 147.2C1518.0 147.1 1519.0 147.1 1520.0 147.1C1521.0 147.1 1522.0 147.1 1523.0 147.2C1524.0 147.3 1525.0 147.3 1526.0 147.4C1527.0 147.5 1528.3 147.6 1529.0 147.6C1529.7 147.7 1529.8 147.7 1530.0 147.7" stroke="#f9980c" stroke-width="4.1" fill="none" stroke-linecap="butt" stroke-linejoin="round"/>
<circle cx="1530.0" cy="147.7" r="2.05" fill="#f9980c"/>
<polygon points="75.5,805.3 107.7,837.7 91.5,837.7 91.5,873.6 59.5,873.6 59.5,837.7 43.3,837.7" fill="#4fa72f"/>
<polygon points="367.5,495.3 399.7,527.7 383.5,527.7 383.5,563.6 351.5,563.6 351.5,527.7 335.3,527.7" fill="#4fa72f"/>
<polygon points="809.5,605.3 841.7,637.7 825.5,637.7 825.5,673.6 793.5,673.6 793.5,637.7 777.3,637.7" fill="#4fa72f"/>
<polygon points="1202.5,354.2 1234.7,386.6 1218.5,386.6 1218.5,422.5 1186.5,422.5 1186.5,386.6 1170.3,386.6" fill="#4fa72f"/>
<polygon points="1360.3,258.3 1392.5,290.7 1376.3,290.7 1376.3,326.6 1344.3,326.6 1344.3,290.7 1328.1,290.7" fill="#4fa72f"/>
<polygon points="485.5,271.1 517.5,271.1 517.5,306.7 533.7,306.7 501.5,338.7 469.3,306.7 485.5,306.7" fill="#c00000"/>
<polygon points="1513.6,72.2 1545.6,72.2 1545.6,107.8 1561.8,107.8 1529.6,139.8 1497.4,107.8 1513.6,107.8" fill="#c00000"/>
<g transform="translate(1528.7 852.4)">
<path d="M-9.5 -4.5 A10.5 10.5 0 0 1 5.2 -9.1" stroke="#9a27b3" stroke-width="1.85" fill="none"/>
<path d="M10.3 -2.8 A10.5 10.5 0 0 1 -8.2 6.5" stroke="#9a27b3" stroke-width="1.85" fill="none"/>
<circle cx="7.6" cy="-7.7" r="2.7" fill="#f23645"/>
<path d="M2.8 -5.1 L-3.3 0.6 L3.5 -0.3 L-3.0 5.5" stroke="#9a27b3" stroke-width="1.75" fill="none" stroke-linejoin="miter"/>
<path d="M-11.5 -1.8 Q-10.9 3.2 -5.9 3.8 Q-10.9 4.4 -11.5 9.4 Q-12.1 4.4 -17.1 3.8 Q-12.1 3.2 -11.5 -1.8Z" fill="#7a52ff"/>
</g>
</svg>
<div class="lg" style="left:20px;font-size:13.1px">Bitcoin / U.S. Dollar · 1D · Coinbase</div>
<div class="lg sq" style="left:237.6px">O</div><div class="lg v" style="left:245.3px">90,468.83</div>
<div class="lg" style="left:310.8px">H</div><div class="lg v" style="left:320.2px">91,880.00</div>
<div class="lg" style="left:385.2px">L</div><div class="lg v" style="left:391px">90,067.81</div>
<div class="lg sq" style="left:457px">C</div><div class="lg v" style="left:464.7px">91,222.02</div>
<div class="lg v" style="left:530.2px;letter-spacing:-0.34px">+753.18 (+0.83%)</div>
<div class="bear" style="left:486.3px;top:230.8px">Bearish</div>
<div class="bear" style="left:1511.3px;top:31.5px">Bearish</div>
<div class="ma">1YR MA</div>
<div class="usd">USD</div>
<div class="cur">91,222.02<br>17:49:05</div>
<div class="pl" style="top:98.5px">120,000.00</div>
<div class="pl" style="top:135.1px">105,000.00</div>
<div class="pl" style="top:216.8px">77,000.00</div>
<div class="pl" style="top:262.8px">65,000.00</div>
<div class="pl" style="top:295.1px">57,500.00</div>
<div class="pl" style="top:332.7px">50,000.00</div>
<div class="pl" style="top:367.2px">44,000.00</div>
<div class="pl" style="top:406.6px">38,000.00</div>
<div class="pl" style="top:451.4px">32,000.00</div>
<div class="pl" style="top:488.0px">28,000.00</div>
<div class="pl" style="top:529.3px">24,000.00</div>
<div class="pl" style="top:564.8px">21,000.00</div>
<div class="pl" style="top:605.9px">18,000.00</div>
<div class="pl" style="top:645.8px">15,500.00</div>
<div class="pl" style="top:682.8px">13,500.00</div>
<div class="pl" style="top:716.4px">11,900.00</div>
<div class="pl" style="top:749.8px">10,500.00</div>
<div class="pl" style="top:788.0px">9,100.00</div>
<div class="pl" style="top:821.8px">8,000.00</div>
<div class="pl" style="top:855.8px">7,050.00</div>
<div class="tl" style="left:45.0px">Jul</div>
<div class="tl yr" style="left:179.4px">2021</div>
<div class="tl" style="left:312.0px">Jul</div>
<div class="tl yr" style="left:446.7px">2022</div>
<div class="tl" style="left:578.4px">Jul</div>
<div class="tl yr" style="left:713.2px">2023</div>
<div class="tl" style="left:846.0px">Jul</div>
<div class="tl yr" style="left:979.7px">2024</div>
<div class="tl" style="left:1112.9px">Jul</div>
<div class="tl yr" style="left:1247.5px">2025</div>
<div class="tl" style="left:1379.0px">Jul</div>
<div class="tl yr" style="left:1514.0px">2026</div>
</body></html>
